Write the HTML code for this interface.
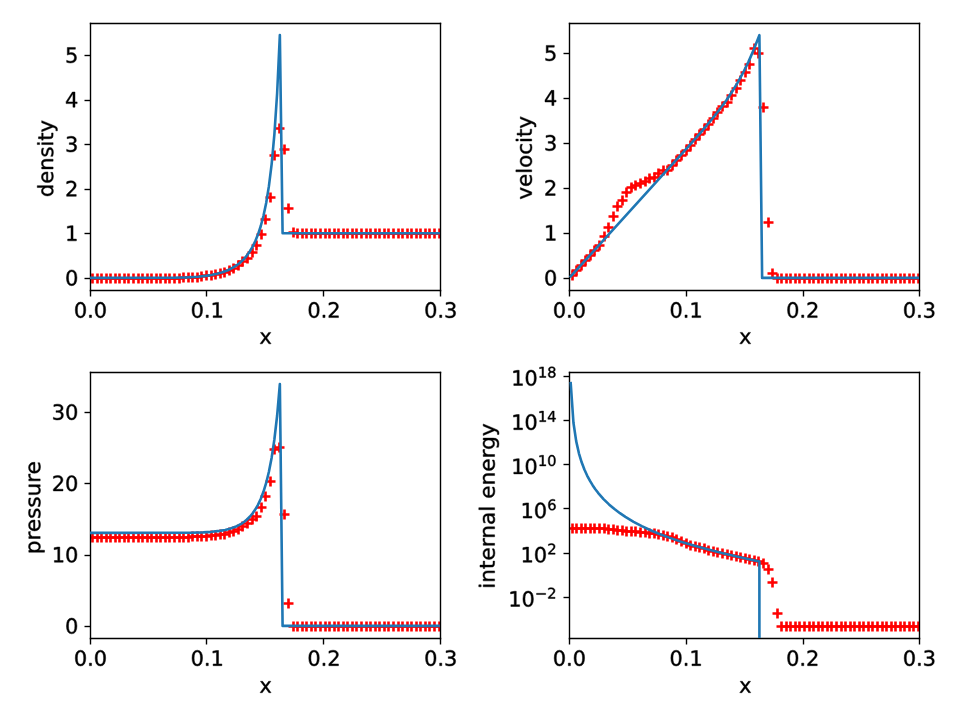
<!DOCTYPE html>
<html><head><meta charset="utf-8"><title>plot</title>
<style>html,body{margin:0;padding:0;background:#fff;width:960px;height:720px;overflow:hidden}svg{display:block}</style>
</head><body>
<svg width="960" height="720" viewBox="0 0 552.96 414.72" version="1.1">
<defs>
<style type="text/css">*{stroke-linejoin: round; stroke-linecap: butt}.t path,.t use{stroke:#000;stroke-width:0.450px;vector-effect:non-scaling-stroke;stroke-linejoin:round}</style>
</defs>
<g id="figure_1">
<g id="patch_1">
<path d="M 0 414.72
L 552.96 414.72
L 552.96 0
L 0 0
z
" style="fill: #ffffff"/>
</g>
<g id="axes_1">
<g id="patch_2">
<path d="M 51.65568 167.04
L 253.39968 167.04
L 253.39968 13.248
L 51.65568 13.248
z
" style="fill: #ffffff"/>
</g>
<g id="matplotlib.axis_1">
<g id="xtick_1">
<g id="line2d_1">
<defs>
<path id="m15b3f0bd22" d="M 0 0 L 0 3.4560" style="stroke: #000000; stroke-width: 0.8"/>
</defs>
<g>
<use href="#m15b3f0bd22" x="52.1280" y="167.3280" style="stroke: #000000; stroke-width: 0.8"/>
</g>
</g>
<g id="text_1" class="t" transform="translate(0.4608 -0.2304)">
<!-- 0.0 -->
<g transform="translate(42.113805 183.158125) scale(0.12 -0.12)">
<defs>
<path id="DejaVuSans-30" d="M 2034 4250
Q 1547 4250 1301 3770
Q 1056 3291 1056 2328
Q 1056 1369 1301 889
Q 1547 409 2034 409
Q 2525 409 2770 889
Q 3016 1369 3016 2328
Q 3016 3291 2770 3770
Q 2525 4250 2034 4250
z
M 2034 4750
Q 2819 4750 3233 4129
Q 3647 3509 3647 2328
Q 3647 1150 3233 529
Q 2819 -91 2034 -91
Q 1250 -91 836 529
Q 422 1150 422 2328
Q 422 3509 836 4129
Q 1250 4750 2034 4750
z
" transform="scale(0.015625)"/>
<path id="DejaVuSans-2e" d="M 684 794
L 1344 794
L 1344 0
L 684 0
L 684 794
z
" transform="scale(0.015625)"/>
</defs>
<use href="#DejaVuSans-30"/>
<use href="#DejaVuSans-2e" transform="translate(63.623047 0)"/>
<use href="#DejaVuSans-30" transform="translate(95.410156 0)"/>
</g>
</g>
</g>
<g id="xtick_2">
<g id="line2d_2">
<g>
<use href="#m15b3f0bd22" x="118.9440" y="167.3280" style="stroke: #000000; stroke-width: 0.8"/>
</g>
</g>
<g id="text_2" class="t" transform="translate(0.4608 -0.2304)">
<!-- 0.1 -->
<g transform="translate(109.361805 183.158125) scale(0.12 -0.12)">
<defs>
<path id="DejaVuSans-31" d="M 794 531
L 1825 531
L 1825 4091
L 703 3866
L 703 4441
L 1819 4666
L 2450 4666
L 2450 531
L 3481 531
L 3481 0
L 794 0
L 794 531
z
" transform="scale(0.015625)"/>
</defs>
<use href="#DejaVuSans-30"/>
<use href="#DejaVuSans-2e" transform="translate(63.623047 0)"/>
<use href="#DejaVuSans-31" transform="translate(95.410156 0)"/>
</g>
</g>
</g>
<g id="xtick_3">
<g id="line2d_3">
<g>
<use href="#m15b3f0bd22" x="186.3360" y="167.3280" style="stroke: #000000; stroke-width: 0.8"/>
</g>
</g>
<g id="text_3" class="t" transform="translate(0.4608 -0.2304)">
<!-- 0.2 -->
<g transform="translate(176.609805 183.158125) scale(0.12 -0.12)">
<defs>
<path id="DejaVuSans-32" d="M 1228 531
L 3431 531
L 3431 0
L 469 0
L 469 531
Q 828 903 1448 1529
Q 2069 2156 2228 2338
Q 2531 2678 2651 2914
Q 2772 3150 2772 3378
Q 2772 3750 2511 3984
Q 2250 4219 1831 4219
Q 1534 4219 1204 4116
Q 875 4013 500 3803
L 500 4441
Q 881 4594 1212 4672
Q 1544 4750 1819 4750
Q 2544 4750 2975 4387
Q 3406 4025 3406 3419
Q 3406 3131 3298 2873
Q 3191 2616 2906 2266
Q 2828 2175 2409 1742
Q 1991 1309 1228 531
z
" transform="scale(0.015625)"/>
</defs>
<use href="#DejaVuSans-30"/>
<use href="#DejaVuSans-2e" transform="translate(63.623047 0)"/>
<use href="#DejaVuSans-32" transform="translate(95.410156 0)"/>
</g>
</g>
</g>
<g id="xtick_4">
<g id="line2d_4">
<g>
<use href="#m15b3f0bd22" x="253.7280" y="167.3280" style="stroke: #000000; stroke-width: 0.8"/>
</g>
</g>
<g id="text_4" class="t" transform="translate(0.4608 -0.2304)">
<!-- 0.3 -->
<g transform="translate(243.857805 183.158125) scale(0.12 -0.12)">
<defs>
<path id="DejaVuSans-33" d="M 2597 2516
Q 3050 2419 3304 2112
Q 3559 1806 3559 1356
Q 3559 666 3084 287
Q 2609 -91 1734 -91
Q 1441 -91 1130 -33
Q 819 25 488 141
L 488 750
Q 750 597 1062 519
Q 1375 441 1716 441
Q 2309 441 2620 675
Q 2931 909 2931 1356
Q 2931 1769 2642 2001
Q 2353 2234 1838 2234
L 1294 2234
L 1294 2753
L 1863 2753
Q 2328 2753 2575 2939
Q 2822 3125 2822 3475
Q 2822 3834 2567 4026
Q 2313 4219 1838 4219
Q 1578 4219 1281 4162
Q 984 4106 628 3988
L 628 4550
Q 988 4650 1302 4700
Q 1616 4750 1894 4750
Q 2613 4750 3031 4423
Q 3450 4097 3450 3541
Q 3450 3153 3228 2886
Q 3006 2619 2597 2516
z
" transform="scale(0.015625)"/>
</defs>
<use href="#DejaVuSans-30"/>
<use href="#DejaVuSans-2e" transform="translate(63.623047 0)"/>
<use href="#DejaVuSans-33" transform="translate(95.410156 0)"/>
</g>
</g>
</g>
<g id="text_5" class="t" transform="translate(0.4608 -0.7488) translate(152.5033 195.4906) scale(1.0000 1.0000) translate(-152.5033 -195.4906)">
<!-- x -->
<g transform="translate(148.97643 198.771875) scale(0.12 -0.12)">
<defs>
<path id="DejaVuSans-78" d="M 3513 3500
L 2247 1797
L 3578 0
L 2900 0
L 1881 1375
L 863 0
L 184 0
L 1544 1831
L 300 3500
L 978 3500
L 1906 2253
L 2834 3500
L 3513 3500
z
" transform="scale(0.015625)"/>
</defs>
<use href="#DejaVuSans-78"/>
</g>
</g>
</g>
<g id="matplotlib.axis_2">
<g id="ytick_1">
<g id="line2d_5">
<defs>
<path id="me904bfcc6c" d="M 0 0 L -3.4560 0" style="stroke: #000000; stroke-width: 0.8"/>
</defs>
<g>
<use href="#me904bfcc6c" x="52.1280" y="160.4160" style="stroke: #000000; stroke-width: 0.8"/>
</g>
</g>
<g id="text_6" class="t" transform="translate(0.4608 -0.2304)">
<!-- 0 -->
<g transform="translate(37.02068 164.608517) scale(0.12 -0.12)">
<use href="#DejaVuSans-30"/>
</g>
</g>
</g>
<g id="ytick_2">
<g id="line2d_6">
<g>
<use href="#me904bfcc6c" x="52.1280" y="134.4960" style="stroke: #000000; stroke-width: 0.8"/>
</g>
</g>
<g id="text_7" class="t" transform="translate(0.4608 -0.2304)">
<!-- 1 -->
<g transform="translate(37.02068 138.951032) scale(0.12 -0.12)">
<use href="#DejaVuSans-31"/>
</g>
</g>
</g>
<g id="ytick_3">
<g id="line2d_7">
<g>
<use href="#me904bfcc6c" x="52.1280" y="109.1520" style="stroke: #000000; stroke-width: 0.8"/>
</g>
</g>
<g id="text_8" class="t" transform="translate(0.4608 -0.2304)">
<!-- 2 -->
<g transform="translate(37.02068 113.293546) scale(0.12 -0.12)">
<use href="#DejaVuSans-32"/>
</g>
</g>
</g>
<g id="ytick_4">
<g id="line2d_8">
<g>
<use href="#me904bfcc6c" x="52.1280" y="83.2320" style="stroke: #000000; stroke-width: 0.8"/>
</g>
</g>
<g id="text_9" class="t" transform="translate(0.4608 -0.2304)">
<!-- 3 -->
<g transform="translate(37.02068 87.636061) scale(0.12 -0.12)">
<use href="#DejaVuSans-33"/>
</g>
</g>
</g>
<g id="ytick_5">
<g id="line2d_9">
<g>
<use href="#me904bfcc6c" x="52.1280" y="57.8880" style="stroke: #000000; stroke-width: 0.8"/>
</g>
</g>
<g id="text_10" class="t" transform="translate(0.4608 -0.2304)">
<!-- 4 -->
<g transform="translate(37.02068 61.978576) scale(0.12 -0.12)">
<defs>
<path id="DejaVuSans-34" d="M 2419 4116
L 825 1625
L 2419 1625
L 2419 4116
z
M 2253 4666
L 3047 4666
L 3047 1625
L 3713 1625
L 3713 1100
L 3047 1100
L 3047 0
L 2419 0
L 2419 1100
L 313 1100
L 313 1709
L 2253 4666
z
" transform="scale(0.015625)"/>
</defs>
<use href="#DejaVuSans-34"/>
</g>
</g>
</g>
<g id="ytick_6">
<g id="line2d_10">
<g>
<use href="#me904bfcc6c" x="52.1280" y="31.9680" style="stroke: #000000; stroke-width: 0.8"/>
</g>
</g>
<g id="text_11" class="t" transform="translate(0.4608 -0.2304)">
<!-- 5 -->
<g transform="translate(37.02068 36.32109) scale(0.12 -0.12)">
<defs>
<path id="DejaVuSans-35" d="M 691 4666
L 3169 4666
L 3169 4134
L 1269 4134
L 1269 2991
Q 1406 3038 1543 3061
Q 1681 3084 1819 3084
Q 2600 3084 3056 2656
Q 3513 2228 3513 1497
Q 3513 744 3044 326
Q 2575 -91 1722 -91
Q 1428 -91 1123 -41
Q 819 9 494 109
L 494 744
Q 775 591 1075 516
Q 1375 441 1709 441
Q 2250 441 2565 725
Q 2881 1009 2881 1497
Q 2881 1984 2565 2268
Q 2250 2553 1709 2553
Q 1456 2553 1204 2497
Q 953 2441 691 2322
L 691 4666
z
" transform="scale(0.015625)"/>
</defs>
<use href="#DejaVuSans-35"/>
</g>
</g>
</g>
<g id="text_12" class="t" transform="translate(0.0576 1.1808) translate(27.2138 89.9920) scale(1.0000 1.0090) translate(-27.2138 -89.9920)">
<!-- density -->
<g transform="translate(30.525055 112.143375) rotate(-90) scale(0.12 -0.12)">
<defs>
<path id="DejaVuSans-64" d="M 2906 2969
L 2906 4863
L 3481 4863
L 3481 0
L 2906 0
L 2906 525
Q 2725 213 2448 61
Q 2172 -91 1784 -91
Q 1150 -91 751 415
Q 353 922 353 1747
Q 353 2572 751 3078
Q 1150 3584 1784 3584
Q 2172 3584 2448 3432
Q 2725 3281 2906 2969
z
M 947 1747
Q 947 1113 1208 752
Q 1469 391 1925 391
Q 2381 391 2643 752
Q 2906 1113 2906 1747
Q 2906 2381 2643 2742
Q 2381 3103 1925 3103
Q 1469 3103 1208 2742
Q 947 2381 947 1747
z
" transform="scale(0.015625)"/>
<path id="DejaVuSans-65" d="M 3597 1894
L 3597 1613
L 953 1613
Q 991 1019 1311 708
Q 1631 397 2203 397
Q 2534 397 2845 478
Q 3156 559 3463 722
L 3463 178
Q 3153 47 2828 -22
Q 2503 -91 2169 -91
Q 1331 -91 842 396
Q 353 884 353 1716
Q 353 2575 817 3079
Q 1281 3584 2069 3584
Q 2775 3584 3186 3129
Q 3597 2675 3597 1894
z
M 3022 2063
Q 3016 2534 2758 2815
Q 2500 3097 2075 3097
Q 1594 3097 1305 2825
Q 1016 2553 972 2059
L 3022 2063
z
" transform="scale(0.015625)"/>
<path id="DejaVuSans-6e" d="M 3513 2113
L 3513 0
L 2938 0
L 2938 2094
Q 2938 2591 2744 2837
Q 2550 3084 2163 3084
Q 1697 3084 1428 2787
Q 1159 2491 1159 1978
L 1159 0
L 581 0
L 581 3500
L 1159 3500
L 1159 2956
Q 1366 3272 1645 3428
Q 1925 3584 2291 3584
Q 2894 3584 3203 3211
Q 3513 2838 3513 2113
z
" transform="scale(0.015625)"/>
<path id="DejaVuSans-73" d="M 2834 3397
L 2834 2853
Q 2591 2978 2328 3040
Q 2066 3103 1784 3103
Q 1356 3103 1142 2972
Q 928 2841 928 2578
Q 928 2378 1081 2264
Q 1234 2150 1697 2047
L 1894 2003
Q 2506 1872 2764 1633
Q 3022 1394 3022 966
Q 3022 478 2636 193
Q 2250 -91 1575 -91
Q 1294 -91 989 -36
Q 684 19 347 128
L 347 722
Q 666 556 975 473
Q 1284 391 1588 391
Q 1994 391 2212 530
Q 2431 669 2431 922
Q 2431 1156 2273 1281
Q 2116 1406 1581 1522
L 1381 1569
Q 847 1681 609 1914
Q 372 2147 372 2553
Q 372 3047 722 3315
Q 1072 3584 1716 3584
Q 2034 3584 2315 3537
Q 2597 3491 2834 3397
z
" transform="scale(0.015625)"/>
<path id="DejaVuSans-69" d="M 603 3500
L 1178 3500
L 1178 0
L 603 0
L 603 3500
z
M 603 4863
L 1178 4863
L 1178 4134
L 603 4134
L 603 4863
z
" transform="scale(0.015625)"/>
<path id="DejaVuSans-74" d="M 1172 4494
L 1172 3500
L 2356 3500
L 2356 3053
L 1172 3053
L 1172 1153
Q 1172 725 1289 603
Q 1406 481 1766 481
L 2356 481
L 2356 0
L 1766 0
Q 1100 0 847 248
Q 594 497 594 1153
L 594 3053
L 172 3053
L 172 3500
L 594 3500
L 594 4494
L 1172 4494
z
" transform="scale(0.015625)"/>
<path id="DejaVuSans-79" d="M 2059 -325
Q 1816 -950 1584 -1140
Q 1353 -1331 966 -1331
L 506 -1331
L 506 -850
L 844 -850
Q 1081 -850 1212 -737
Q 1344 -625 1503 -206
L 1606 56
L 191 3500
L 800 3500
L 1894 763
L 2988 3500
L 3597 3500
L 2059 -325
z
" transform="scale(0.015625)"/>
</defs>
<use href="#DejaVuSans-64"/>
<use href="#DejaVuSans-65" transform="translate(63.476562 0)"/>
<use href="#DejaVuSans-6e" transform="translate(125 0)"/>
<use href="#DejaVuSans-73" transform="translate(188.378906 0)"/>
<use href="#DejaVuSans-69" transform="translate(240.478516 0)"/>
<use href="#DejaVuSans-74" transform="translate(268.261719 0)"/>
<use href="#DejaVuSans-79" transform="translate(307.470703 0)"/>
</g>
</g>
</g>
<g id="line2d_11">
<defs>
<path id="m07281500a2" d="M -2.8800 0 L 2.8800 0 M 0 2.8800 L 0 -2.8800" style="stroke: #ff0000; stroke-width: 1.5"/>
</defs>
<g clip-path="url(#pbebabd6187)">
<use href="#m07281500a2" x="53.2800" y="160.4160" style="fill: #ff0000; stroke: #ff0000; stroke-width: 1.5"/>
<use href="#m07281500a2" x="56.1600" y="160.4160" style="fill: #ff0000; stroke: #ff0000; stroke-width: 1.5"/>
<use href="#m07281500a2" x="58.4640" y="160.4160" style="fill: #ff0000; stroke: #ff0000; stroke-width: 1.5"/>
<use href="#m07281500a2" x="61.3440" y="160.4160" style="fill: #ff0000; stroke: #ff0000; stroke-width: 1.5"/>
<use href="#m07281500a2" x="63.6480" y="160.4160" style="fill: #ff0000; stroke: #ff0000; stroke-width: 1.5"/>
<use href="#m07281500a2" x="66.5280" y="160.4160" style="fill: #ff0000; stroke: #ff0000; stroke-width: 1.5"/>
<use href="#m07281500a2" x="68.8320" y="160.4160" style="fill: #ff0000; stroke: #ff0000; stroke-width: 1.5"/>
<use href="#m07281500a2" x="71.7120" y="160.4160" style="fill: #ff0000; stroke: #ff0000; stroke-width: 1.5"/>
<use href="#m07281500a2" x="74.0160" y="160.4160" style="fill: #ff0000; stroke: #ff0000; stroke-width: 1.5"/>
<use href="#m07281500a2" x="76.8960" y="160.4160" style="fill: #ff0000; stroke: #ff0000; stroke-width: 1.5"/>
<use href="#m07281500a2" x="79.7760" y="160.4160" style="fill: #ff0000; stroke: #ff0000; stroke-width: 1.5"/>
<use href="#m07281500a2" x="82.0800" y="160.4160" style="fill: #ff0000; stroke: #ff0000; stroke-width: 1.5"/>
<use href="#m07281500a2" x="84.9600" y="160.4160" style="fill: #ff0000; stroke: #ff0000; stroke-width: 1.5"/>
<use href="#m07281500a2" x="87.2640" y="160.4160" style="fill: #ff0000; stroke: #ff0000; stroke-width: 1.5"/>
<use href="#m07281500a2" x="90.1440" y="160.4160" style="fill: #ff0000; stroke: #ff0000; stroke-width: 1.5"/>
<use href="#m07281500a2" x="92.4480" y="160.4160" style="fill: #ff0000; stroke: #ff0000; stroke-width: 1.5"/>
<use href="#m07281500a2" x="95.3280" y="160.4160" style="fill: #ff0000; stroke: #ff0000; stroke-width: 1.5"/>
<use href="#m07281500a2" x="97.6320" y="160.4160" style="fill: #ff0000; stroke: #ff0000; stroke-width: 1.5"/>
<use href="#m07281500a2" x="100.5120" y="160.4160" style="fill: #ff0000; stroke: #ff0000; stroke-width: 1.5"/>
<use href="#m07281500a2" x="103.3920" y="160.4160" style="fill: #ff0000; stroke: #ff0000; stroke-width: 1.5"/>
<use href="#m07281500a2" x="105.6960" y="159.8400" style="fill: #ff0000; stroke: #ff0000; stroke-width: 1.5"/>
<use href="#m07281500a2" x="108.5760" y="159.8400" style="fill: #ff0000; stroke: #ff0000; stroke-width: 1.5"/>
<use href="#m07281500a2" x="110.8800" y="159.8400" style="fill: #ff0000; stroke: #ff0000; stroke-width: 1.5"/>
<use href="#m07281500a2" x="113.7600" y="159.8400" style="fill: #ff0000; stroke: #ff0000; stroke-width: 1.5"/>
<use href="#m07281500a2" x="116.0640" y="159.2640" style="fill: #ff0000; stroke: #ff0000; stroke-width: 1.5"/>
<use href="#m07281500a2" x="118.9440" y="158.6880" style="fill: #ff0000; stroke: #ff0000; stroke-width: 1.5"/>
<use href="#m07281500a2" x="121.8240" y="158.6880" style="fill: #ff0000; stroke: #ff0000; stroke-width: 1.5"/>
<use href="#m07281500a2" x="124.1280" y="158.1120" style="fill: #ff0000; stroke: #ff0000; stroke-width: 1.5"/>
<use href="#m07281500a2" x="127.0080" y="157.5360" style="fill: #ff0000; stroke: #ff0000; stroke-width: 1.5"/>
<use href="#m07281500a2" x="129.3120" y="156.9600" style="fill: #ff0000; stroke: #ff0000; stroke-width: 1.5"/>
<use href="#m07281500a2" x="132.1920" y="155.8080" style="fill: #ff0000; stroke: #ff0000; stroke-width: 1.5"/>
<use href="#m07281500a2" x="134.4960" y="154.6560" style="fill: #ff0000; stroke: #ff0000; stroke-width: 1.5"/>
<use href="#m07281500a2" x="137.3760" y="152.9280" style="fill: #ff0000; stroke: #ff0000; stroke-width: 1.5"/>
<use href="#m07281500a2" x="139.6800" y="150.6240" style="fill: #ff0000; stroke: #ff0000; stroke-width: 1.5"/>
<use href="#m07281500a2" x="142.5600" y="148.8960" style="fill: #ff0000; stroke: #ff0000; stroke-width: 1.5"/>
<use href="#m07281500a2" x="145.4400" y="145.4400" style="fill: #ff0000; stroke: #ff0000; stroke-width: 1.5"/>
<use href="#m07281500a2" x="147.7440" y="141.4080" style="fill: #ff0000; stroke: #ff0000; stroke-width: 1.5"/>
<use href="#m07281500a2" x="150.6240" y="135.0720" style="fill: #ff0000; stroke: #ff0000; stroke-width: 1.5"/>
<use href="#m07281500a2" x="152.9280" y="126.4320" style="fill: #ff0000; stroke: #ff0000; stroke-width: 1.5"/>
<use href="#m07281500a2" x="155.8080" y="113.7600" style="fill: #ff0000; stroke: #ff0000; stroke-width: 1.5"/>
<use href="#m07281500a2" x="158.1120" y="89.5680" style="fill: #ff0000; stroke: #ff0000; stroke-width: 1.5"/>
<use href="#m07281500a2" x="160.9920" y="74.0160" style="fill: #ff0000; stroke: #ff0000; stroke-width: 1.5"/>
<use href="#m07281500a2" x="163.8720" y="86.1120" style="fill: #ff0000; stroke: #ff0000; stroke-width: 1.5"/>
<use href="#m07281500a2" x="166.1760" y="120.0960" style="fill: #ff0000; stroke: #ff0000; stroke-width: 1.5"/>
<use href="#m07281500a2" x="169.0560" y="133.9200" style="fill: #ff0000; stroke: #ff0000; stroke-width: 1.5"/>
<use href="#m07281500a2" x="171.3600" y="134.4960" style="fill: #ff0000; stroke: #ff0000; stroke-width: 1.5"/>
<use href="#m07281500a2" x="174.2400" y="134.4960" style="fill: #ff0000; stroke: #ff0000; stroke-width: 1.5"/>
<use href="#m07281500a2" x="176.5440" y="134.4960" style="fill: #ff0000; stroke: #ff0000; stroke-width: 1.5"/>
<use href="#m07281500a2" x="179.4240" y="134.4960" style="fill: #ff0000; stroke: #ff0000; stroke-width: 1.5"/>
<use href="#m07281500a2" x="181.7280" y="134.4960" style="fill: #ff0000; stroke: #ff0000; stroke-width: 1.5"/>
<use href="#m07281500a2" x="184.6080" y="134.4960" style="fill: #ff0000; stroke: #ff0000; stroke-width: 1.5"/>
<use href="#m07281500a2" x="187.4880" y="134.4960" style="fill: #ff0000; stroke: #ff0000; stroke-width: 1.5"/>
<use href="#m07281500a2" x="189.7920" y="134.4960" style="fill: #ff0000; stroke: #ff0000; stroke-width: 1.5"/>
<use href="#m07281500a2" x="192.6720" y="134.4960" style="fill: #ff0000; stroke: #ff0000; stroke-width: 1.5"/>
<use href="#m07281500a2" x="194.9760" y="134.4960" style="fill: #ff0000; stroke: #ff0000; stroke-width: 1.5"/>
<use href="#m07281500a2" x="197.8560" y="134.4960" style="fill: #ff0000; stroke: #ff0000; stroke-width: 1.5"/>
<use href="#m07281500a2" x="200.1600" y="134.4960" style="fill: #ff0000; stroke: #ff0000; stroke-width: 1.5"/>
<use href="#m07281500a2" x="203.0400" y="134.4960" style="fill: #ff0000; stroke: #ff0000; stroke-width: 1.5"/>
<use href="#m07281500a2" x="205.3440" y="134.4960" style="fill: #ff0000; stroke: #ff0000; stroke-width: 1.5"/>
<use href="#m07281500a2" x="208.2240" y="134.4960" style="fill: #ff0000; stroke: #ff0000; stroke-width: 1.5"/>
<use href="#m07281500a2" x="211.1040" y="134.4960" style="fill: #ff0000; stroke: #ff0000; stroke-width: 1.5"/>
<use href="#m07281500a2" x="213.4080" y="134.4960" style="fill: #ff0000; stroke: #ff0000; stroke-width: 1.5"/>
<use href="#m07281500a2" x="216.2880" y="134.4960" style="fill: #ff0000; stroke: #ff0000; stroke-width: 1.5"/>
<use href="#m07281500a2" x="218.5920" y="134.4960" style="fill: #ff0000; stroke: #ff0000; stroke-width: 1.5"/>
<use href="#m07281500a2" x="221.4720" y="134.4960" style="fill: #ff0000; stroke: #ff0000; stroke-width: 1.5"/>
<use href="#m07281500a2" x="223.7760" y="134.4960" style="fill: #ff0000; stroke: #ff0000; stroke-width: 1.5"/>
<use href="#m07281500a2" x="226.6560" y="134.4960" style="fill: #ff0000; stroke: #ff0000; stroke-width: 1.5"/>
<use href="#m07281500a2" x="229.5360" y="134.4960" style="fill: #ff0000; stroke: #ff0000; stroke-width: 1.5"/>
<use href="#m07281500a2" x="231.8400" y="134.4960" style="fill: #ff0000; stroke: #ff0000; stroke-width: 1.5"/>
<use href="#m07281500a2" x="234.7200" y="134.4960" style="fill: #ff0000; stroke: #ff0000; stroke-width: 1.5"/>
<use href="#m07281500a2" x="237.0240" y="134.4960" style="fill: #ff0000; stroke: #ff0000; stroke-width: 1.5"/>
<use href="#m07281500a2" x="239.9040" y="134.4960" style="fill: #ff0000; stroke: #ff0000; stroke-width: 1.5"/>
<use href="#m07281500a2" x="242.2080" y="134.4960" style="fill: #ff0000; stroke: #ff0000; stroke-width: 1.5"/>
<use href="#m07281500a2" x="245.0880" y="134.4960" style="fill: #ff0000; stroke: #ff0000; stroke-width: 1.5"/>
<use href="#m07281500a2" x="247.3920" y="134.4960" style="fill: #ff0000; stroke: #ff0000; stroke-width: 1.5"/>
<use href="#m07281500a2" x="250.2720" y="134.4960" style="fill: #ff0000; stroke: #ff0000; stroke-width: 1.5"/>
<use href="#m07281500a2" x="253.1520" y="134.4960" style="fill: #ff0000; stroke: #ff0000; stroke-width: 1.5"/>
<use href="#m07281500a2" x="255.4560" y="134.4960" style="fill: #ff0000; stroke: #ff0000; stroke-width: 1.5"/>
</g>
</g>
<g id="patch_3">
<path d="M 52.1280 167.3280 L 52.1280 13.5360" style="fill: none; stroke: #000000; stroke-width: 0.8; stroke-linejoin: miter; stroke-linecap: square"/>
</g>
<g id="patch_4">
<path d="M 253.7280 167.3280 L 253.7280 13.5360" style="fill: none; stroke: #000000; stroke-width: 0.8; stroke-linejoin: miter; stroke-linecap: square"/>
</g>
<g id="patch_5">
<path d="M 52.1280 167.3280 L 253.7280 167.3280" style="fill: none; stroke: #000000; stroke-width: 0.8; stroke-linejoin: miter; stroke-linecap: square"/>
</g>
<g id="patch_6">
<path d="M 52.1280 13.5360 L 253.7280 13.5360" style="fill: none; stroke: #000000; stroke-width: 0.8; stroke-linejoin: miter; stroke-linecap: square"/>
</g>
<g id="line2d_12">
<path d="M 52.443743 160.049455
L 99.727493 159.953547
L 107.608118 159.749662
L 113.912618 159.37996
L 118.640993 158.885276
L 121.793243 158.398208
L 124.945493 157.737602
L 128.097743 156.84764
L 131.249993 155.652864
L 134.402243 154.048324
L 135.978368 153.047617
L 137.554493 151.882754
L 139.130618 150.52274
L 140.706743 148.928745
L 142.282868 147.051491
L 143.858993 144.827586
L 145.435118 142.174317
L 147.011243 138.982092
L 148.587368 135.103352
L 150.163493 130.335941
L 151.739618 124.397692
L 153.315743 116.886649
L 154.891868 107.217227
L 156.467993 94.514824
L 158.044118 77.435744
L 159.620243 53.847946
L 161.196368 20.238545
L 162.772493 134.391969
L 252.611618 134.391969
L 252.611618 134.391969
" clip-path="url(#pbebabd6187)" style="fill: none; stroke: #1f77b4; stroke-width: 1.5; stroke-linecap: square"/>
</g>
</g>
<g id="axes_2">
<g id="patch_7">
<path d="M 327.9456 167.04
L 529.5456 167.04
L 529.5456 13.248
L 327.9456 13.248
z
" style="fill: #ffffff"/>
</g>
<g id="matplotlib.axis_3">
<g id="xtick_5">
<g id="line2d_13">
<g>
<use href="#m15b3f0bd22" x="328.0320" y="167.3280" style="stroke: #000000; stroke-width: 0.8"/>
</g>
</g>
<g id="text_13" class="t" transform="translate(0.0288 -0.2304)">
<!-- 0.0 -->
<g transform="translate(318.403725 183.158125) scale(0.12 -0.12)">
<use href="#DejaVuSans-30"/>
<use href="#DejaVuSans-2e" transform="translate(63.623047 0)"/>
<use href="#DejaVuSans-30" transform="translate(95.410156 0)"/>
</g>
</g>
</g>
<g id="xtick_6">
<g id="line2d_14">
<g>
<use href="#m15b3f0bd22" x="395.4240" y="167.3280" style="stroke: #000000; stroke-width: 0.8"/>
</g>
</g>
<g id="text_14" class="t" transform="translate(0.0288 -0.2304)">
<!-- 0.1 -->
<g transform="translate(385.603725 183.158125) scale(0.12 -0.12)">
<use href="#DejaVuSans-30"/>
<use href="#DejaVuSans-2e" transform="translate(63.623047 0)"/>
<use href="#DejaVuSans-31" transform="translate(95.410156 0)"/>
</g>
</g>
</g>
<g id="xtick_7">
<g id="line2d_15">
<g>
<use href="#m15b3f0bd22" x="462.8160" y="167.3280" style="stroke: #000000; stroke-width: 0.8"/>
</g>
</g>
<g id="text_15" class="t" transform="translate(0.0288 -0.2304)">
<!-- 0.2 -->
<g transform="translate(452.803725 183.158125) scale(0.12 -0.12)">
<use href="#DejaVuSans-30"/>
<use href="#DejaVuSans-2e" transform="translate(63.623047 0)"/>
<use href="#DejaVuSans-32" transform="translate(95.410156 0)"/>
</g>
</g>
</g>
<g id="xtick_8">
<g id="line2d_16">
<g>
<use href="#m15b3f0bd22" x="529.6320" y="167.3280" style="stroke: #000000; stroke-width: 0.8"/>
</g>
</g>
<g id="text_16" class="t" transform="translate(0.0288 -0.2304)">
<!-- 0.3 -->
<g transform="translate(520.003725 183.158125) scale(0.12 -0.12)">
<use href="#DejaVuSans-30"/>
<use href="#DejaVuSans-2e" transform="translate(63.623047 0)"/>
<use href="#DejaVuSans-33" transform="translate(95.410156 0)"/>
</g>
</g>
</g>
<g id="text_17" class="t" transform="translate(0.5472 -0.7488) translate(428.7212 195.4906) scale(1.0000 1.0000) translate(-428.7212 -195.4906)">
<!-- x -->
<g transform="translate(425.19435 198.771875) scale(0.12 -0.12)">
<use href="#DejaVuSans-78"/>
</g>
</g>
</g>
<g id="matplotlib.axis_4">
<g id="ytick_7">
<g id="line2d_17">
<g>
<use href="#me904bfcc6c" x="328.0320" y="160.4160" style="stroke: #000000; stroke-width: 0.8"/>
</g>
</g>
<g id="text_18" class="t" transform="translate(0.0288 -0.2304)">
<!-- 0 -->
<g transform="translate(313.3106 164.608517) scale(0.12 -0.12)">
<use href="#DejaVuSans-30"/>
</g>
</g>
</g>
<g id="ytick_8">
<g id="line2d_18">
<g>
<use href="#me904bfcc6c" x="328.0320" y="134.4960" style="stroke: #000000; stroke-width: 0.8"/>
</g>
</g>
<g id="text_19" class="t" transform="translate(0.0288 -0.2304)">
<!-- 1 -->
<g transform="translate(313.3106 138.713213) scale(0.12 -0.12)">
<use href="#DejaVuSans-31"/>
</g>
</g>
</g>
<g id="ytick_9">
<g id="line2d_19">
<g>
<use href="#me904bfcc6c" x="328.0320" y="108.5760" style="stroke: #000000; stroke-width: 0.8"/>
</g>
</g>
<g id="text_20" class="t" transform="translate(0.0288 -0.2304)">
<!-- 2 -->
<g transform="translate(313.3106 112.81791) scale(0.12 -0.12)">
<use href="#DejaVuSans-32"/>
</g>
</g>
</g>
<g id="ytick_10">
<g id="line2d_20">
<g>
<use href="#me904bfcc6c" x="328.0320" y="82.6560" style="stroke: #000000; stroke-width: 0.8"/>
</g>
</g>
<g id="text_21" class="t" transform="translate(0.0288 -0.2304)">
<!-- 3 -->
<g transform="translate(313.3106 86.922606) scale(0.12 -0.12)">
<use href="#DejaVuSans-33"/>
</g>
</g>
</g>
<g id="ytick_11">
<g id="line2d_21">
<g>
<use href="#me904bfcc6c" x="328.0320" y="56.7360" style="stroke: #000000; stroke-width: 0.8"/>
</g>
</g>
<g id="text_22" class="t" transform="translate(0.0288 -0.2304)">
<!-- 4 -->
<g transform="translate(313.3106 61.027302) scale(0.12 -0.12)">
<use href="#DejaVuSans-34"/>
</g>
</g>
</g>
<g id="ytick_12">
<g id="line2d_22">
<g>
<use href="#me904bfcc6c" x="328.0320" y="30.8160" style="stroke: #000000; stroke-width: 0.8"/>
</g>
</g>
<g id="text_23" class="t" transform="translate(0.0288 -0.2304)">
<!-- 5 -->
<g transform="translate(313.3106 35.131999) scale(0.12 -0.12)">
<use href="#DejaVuSans-35"/>
</g>
</g>
</g>
<g id="text_24" class="t" transform="translate(-0.5472 0.7488) translate(303.5037 90.1449) scale(1.0000 1.0270) translate(-303.5037 -90.1449)">
<!-- velocity -->
<g transform="translate(306.814975 113.594625) rotate(-90) scale(0.12 -0.12)">
<defs>
<path id="DejaVuSans-76" d="M 191 3500
L 800 3500
L 1894 563
L 2988 3500
L 3597 3500
L 2284 0
L 1503 0
L 191 3500
z
" transform="scale(0.015625)"/>
<path id="DejaVuSans-6c" d="M 603 4863
L 1178 4863
L 1178 0
L 603 0
L 603 4863
z
" transform="scale(0.015625)"/>
<path id="DejaVuSans-6f" d="M 1959 3097
Q 1497 3097 1228 2736
Q 959 2375 959 1747
Q 959 1119 1226 758
Q 1494 397 1959 397
Q 2419 397 2687 759
Q 2956 1122 2956 1747
Q 2956 2369 2687 2733
Q 2419 3097 1959 3097
z
M 1959 3584
Q 2709 3584 3137 3096
Q 3566 2609 3566 1747
Q 3566 888 3137 398
Q 2709 -91 1959 -91
Q 1206 -91 779 398
Q 353 888 353 1747
Q 353 2609 779 3096
Q 1206 3584 1959 3584
z
" transform="scale(0.015625)"/>
<path id="DejaVuSans-63" d="M 3122 3366
L 3122 2828
Q 2878 2963 2633 3030
Q 2388 3097 2138 3097
Q 1578 3097 1268 2742
Q 959 2388 959 1747
Q 959 1106 1268 751
Q 1578 397 2138 397
Q 2388 397 2633 464
Q 2878 531 3122 666
L 3122 134
Q 2881 22 2623 -34
Q 2366 -91 2075 -91
Q 1284 -91 818 406
Q 353 903 353 1747
Q 353 2603 823 3093
Q 1294 3584 2113 3584
Q 2378 3584 2631 3529
Q 2884 3475 3122 3366
z
" transform="scale(0.015625)"/>
</defs>
<use href="#DejaVuSans-76"/>
<use href="#DejaVuSans-65" transform="translate(59.179688 0)"/>
<use href="#DejaVuSans-6c" transform="translate(120.703125 0)"/>
<use href="#DejaVuSans-6f" transform="translate(148.486328 0)"/>
<use href="#DejaVuSans-63" transform="translate(209.667969 0)"/>
<use href="#DejaVuSans-69" transform="translate(264.648438 0)"/>
<use href="#DejaVuSans-74" transform="translate(292.431641 0)"/>
<use href="#DejaVuSans-79" transform="translate(331.640625 0)"/>
</g>
</g>
</g>
<g id="line2d_23">
<g clip-path="url(#pd83d0a4c0b)">
<use href="#m07281500a2" x="329.7600" y="158.6880" style="fill: #ff0000; stroke: #ff0000; stroke-width: 1.5"/>
<use href="#m07281500a2" x="332.0640" y="155.8080" style="fill: #ff0000; stroke: #ff0000; stroke-width: 1.5"/>
<use href="#m07281500a2" x="334.9440" y="152.9280" style="fill: #ff0000; stroke: #ff0000; stroke-width: 1.5"/>
<use href="#m07281500a2" x="337.2480" y="150.0480" style="fill: #ff0000; stroke: #ff0000; stroke-width: 1.5"/>
<use href="#m07281500a2" x="340.1280" y="147.1680" style="fill: #ff0000; stroke: #ff0000; stroke-width: 1.5"/>
<use href="#m07281500a2" x="342.4320" y="144.2880" style="fill: #ff0000; stroke: #ff0000; stroke-width: 1.5"/>
<use href="#m07281500a2" x="345.3120" y="141.4080" style="fill: #ff0000; stroke: #ff0000; stroke-width: 1.5"/>
<use href="#m07281500a2" x="348.1920" y="136.2240" style="fill: #ff0000; stroke: #ff0000; stroke-width: 1.5"/>
<use href="#m07281500a2" x="350.4960" y="131.0400" style="fill: #ff0000; stroke: #ff0000; stroke-width: 1.5"/>
<use href="#m07281500a2" x="353.3760" y="124.7040" style="fill: #ff0000; stroke: #ff0000; stroke-width: 1.5"/>
<use href="#m07281500a2" x="355.6800" y="118.9440" style="fill: #ff0000; stroke: #ff0000; stroke-width: 1.5"/>
<use href="#m07281500a2" x="358.5600" y="115.4880" style="fill: #ff0000; stroke: #ff0000; stroke-width: 1.5"/>
<use href="#m07281500a2" x="360.8640" y="110.8800" style="fill: #ff0000; stroke: #ff0000; stroke-width: 1.5"/>
<use href="#m07281500a2" x="363.7440" y="108.0000" style="fill: #ff0000; stroke: #ff0000; stroke-width: 1.5"/>
<use href="#m07281500a2" x="366.0480" y="106.8480" style="fill: #ff0000; stroke: #ff0000; stroke-width: 1.5"/>
<use href="#m07281500a2" x="368.9280" y="105.6960" style="fill: #ff0000; stroke: #ff0000; stroke-width: 1.5"/>
<use href="#m07281500a2" x="371.8080" y="104.5440" style="fill: #ff0000; stroke: #ff0000; stroke-width: 1.5"/>
<use href="#m07281500a2" x="374.1120" y="102.8160" style="fill: #ff0000; stroke: #ff0000; stroke-width: 1.5"/>
<use href="#m07281500a2" x="376.9920" y="102.2400" style="fill: #ff0000; stroke: #ff0000; stroke-width: 1.5"/>
<use href="#m07281500a2" x="379.2960" y="99.9360" style="fill: #ff0000; stroke: #ff0000; stroke-width: 1.5"/>
<use href="#m07281500a2" x="382.1760" y="98.2080" style="fill: #ff0000; stroke: #ff0000; stroke-width: 1.5"/>
<use href="#m07281500a2" x="384.4800" y="98.2080" style="fill: #ff0000; stroke: #ff0000; stroke-width: 1.5"/>
<use href="#m07281500a2" x="387.3600" y="95.3280" style="fill: #ff0000; stroke: #ff0000; stroke-width: 1.5"/>
<use href="#m07281500a2" x="389.6640" y="92.4480" style="fill: #ff0000; stroke: #ff0000; stroke-width: 1.5"/>
<use href="#m07281500a2" x="392.5440" y="89.5680" style="fill: #ff0000; stroke: #ff0000; stroke-width: 1.5"/>
<use href="#m07281500a2" x="395.4240" y="86.6880" style="fill: #ff0000; stroke: #ff0000; stroke-width: 1.5"/>
<use href="#m07281500a2" x="397.7280" y="83.8080" style="fill: #ff0000; stroke: #ff0000; stroke-width: 1.5"/>
<use href="#m07281500a2" x="400.6080" y="80.3520" style="fill: #ff0000; stroke: #ff0000; stroke-width: 1.5"/>
<use href="#m07281500a2" x="402.9120" y="77.4720" style="fill: #ff0000; stroke: #ff0000; stroke-width: 1.5"/>
<use href="#m07281500a2" x="405.7920" y="74.5920" style="fill: #ff0000; stroke: #ff0000; stroke-width: 1.5"/>
<use href="#m07281500a2" x="408.0960" y="71.7120" style="fill: #ff0000; stroke: #ff0000; stroke-width: 1.5"/>
<use href="#m07281500a2" x="410.9760" y="68.2560" style="fill: #ff0000; stroke: #ff0000; stroke-width: 1.5"/>
<use href="#m07281500a2" x="413.2800" y="64.8000" style="fill: #ff0000; stroke: #ff0000; stroke-width: 1.5"/>
<use href="#m07281500a2" x="416.1600" y="61.3440" style="fill: #ff0000; stroke: #ff0000; stroke-width: 1.5"/>
<use href="#m07281500a2" x="419.0400" y="59.0400" style="fill: #ff0000; stroke: #ff0000; stroke-width: 1.5"/>
<use href="#m07281500a2" x="421.3440" y="55.0080" style="fill: #ff0000; stroke: #ff0000; stroke-width: 1.5"/>
<use href="#m07281500a2" x="424.2240" y="50.9760" style="fill: #ff0000; stroke: #ff0000; stroke-width: 1.5"/>
<use href="#m07281500a2" x="426.5280" y="46.3680" style="fill: #ff0000; stroke: #ff0000; stroke-width: 1.5"/>
<use href="#m07281500a2" x="429.4080" y="41.7600" style="fill: #ff0000; stroke: #ff0000; stroke-width: 1.5"/>
<use href="#m07281500a2" x="431.7120" y="37.1520" style="fill: #ff0000; stroke: #ff0000; stroke-width: 1.5"/>
<use href="#m07281500a2" x="434.5920" y="27.9360" style="fill: #ff0000; stroke: #ff0000; stroke-width: 1.5"/>
<use href="#m07281500a2" x="436.8960" y="30.8160" style="fill: #ff0000; stroke: #ff0000; stroke-width: 1.5"/>
<use href="#m07281500a2" x="439.7760" y="61.9200" style="fill: #ff0000; stroke: #ff0000; stroke-width: 1.5"/>
<use href="#m07281500a2" x="442.6560" y="128.1600" style="fill: #ff0000; stroke: #ff0000; stroke-width: 1.5"/>
<use href="#m07281500a2" x="444.9600" y="157.5360" style="fill: #ff0000; stroke: #ff0000; stroke-width: 1.5"/>
<use href="#m07281500a2" x="447.8400" y="160.4160" style="fill: #ff0000; stroke: #ff0000; stroke-width: 1.5"/>
<use href="#m07281500a2" x="450.1440" y="160.4160" style="fill: #ff0000; stroke: #ff0000; stroke-width: 1.5"/>
<use href="#m07281500a2" x="453.0240" y="160.4160" style="fill: #ff0000; stroke: #ff0000; stroke-width: 1.5"/>
<use href="#m07281500a2" x="455.3280" y="160.4160" style="fill: #ff0000; stroke: #ff0000; stroke-width: 1.5"/>
<use href="#m07281500a2" x="458.2080" y="160.4160" style="fill: #ff0000; stroke: #ff0000; stroke-width: 1.5"/>
<use href="#m07281500a2" x="460.5120" y="160.4160" style="fill: #ff0000; stroke: #ff0000; stroke-width: 1.5"/>
<use href="#m07281500a2" x="463.3920" y="160.4160" style="fill: #ff0000; stroke: #ff0000; stroke-width: 1.5"/>
<use href="#m07281500a2" x="466.2720" y="160.4160" style="fill: #ff0000; stroke: #ff0000; stroke-width: 1.5"/>
<use href="#m07281500a2" x="468.5760" y="160.4160" style="fill: #ff0000; stroke: #ff0000; stroke-width: 1.5"/>
<use href="#m07281500a2" x="471.4560" y="160.4160" style="fill: #ff0000; stroke: #ff0000; stroke-width: 1.5"/>
<use href="#m07281500a2" x="473.7600" y="160.4160" style="fill: #ff0000; stroke: #ff0000; stroke-width: 1.5"/>
<use href="#m07281500a2" x="476.6400" y="160.4160" style="fill: #ff0000; stroke: #ff0000; stroke-width: 1.5"/>
<use href="#m07281500a2" x="478.9440" y="160.4160" style="fill: #ff0000; stroke: #ff0000; stroke-width: 1.5"/>
<use href="#m07281500a2" x="481.8240" y="160.4160" style="fill: #ff0000; stroke: #ff0000; stroke-width: 1.5"/>
<use href="#m07281500a2" x="484.7040" y="160.4160" style="fill: #ff0000; stroke: #ff0000; stroke-width: 1.5"/>
<use href="#m07281500a2" x="487.0080" y="160.4160" style="fill: #ff0000; stroke: #ff0000; stroke-width: 1.5"/>
<use href="#m07281500a2" x="489.8880" y="160.4160" style="fill: #ff0000; stroke: #ff0000; stroke-width: 1.5"/>
<use href="#m07281500a2" x="492.1920" y="160.4160" style="fill: #ff0000; stroke: #ff0000; stroke-width: 1.5"/>
<use href="#m07281500a2" x="495.0720" y="160.4160" style="fill: #ff0000; stroke: #ff0000; stroke-width: 1.5"/>
<use href="#m07281500a2" x="497.3760" y="160.4160" style="fill: #ff0000; stroke: #ff0000; stroke-width: 1.5"/>
<use href="#m07281500a2" x="500.2560" y="160.4160" style="fill: #ff0000; stroke: #ff0000; stroke-width: 1.5"/>
<use href="#m07281500a2" x="502.5600" y="160.4160" style="fill: #ff0000; stroke: #ff0000; stroke-width: 1.5"/>
<use href="#m07281500a2" x="505.4400" y="160.4160" style="fill: #ff0000; stroke: #ff0000; stroke-width: 1.5"/>
<use href="#m07281500a2" x="508.3200" y="160.4160" style="fill: #ff0000; stroke: #ff0000; stroke-width: 1.5"/>
<use href="#m07281500a2" x="510.6240" y="160.4160" style="fill: #ff0000; stroke: #ff0000; stroke-width: 1.5"/>
<use href="#m07281500a2" x="513.5040" y="160.4160" style="fill: #ff0000; stroke: #ff0000; stroke-width: 1.5"/>
<use href="#m07281500a2" x="515.8080" y="160.4160" style="fill: #ff0000; stroke: #ff0000; stroke-width: 1.5"/>
<use href="#m07281500a2" x="518.6880" y="160.4160" style="fill: #ff0000; stroke: #ff0000; stroke-width: 1.5"/>
<use href="#m07281500a2" x="520.9920" y="160.4160" style="fill: #ff0000; stroke: #ff0000; stroke-width: 1.5"/>
<use href="#m07281500a2" x="523.8720" y="160.4160" style="fill: #ff0000; stroke: #ff0000; stroke-width: 1.5"/>
<use href="#m07281500a2" x="526.1760" y="160.4160" style="fill: #ff0000; stroke: #ff0000; stroke-width: 1.5"/>
<use href="#m07281500a2" x="529.0560" y="160.4160" style="fill: #ff0000; stroke: #ff0000; stroke-width: 1.5"/>
<use href="#m07281500a2" x="531.9360" y="160.4160" style="fill: #ff0000; stroke: #ff0000; stroke-width: 1.5"/>
</g>
</g>
<g id="patch_8">
<path d="M 328.0320 167.3280 L 328.0320 13.5360" style="fill: none; stroke: #000000; stroke-width: 0.8; stroke-linejoin: miter; stroke-linecap: square"/>
</g>
<g id="patch_9">
<path d="M 529.6320 167.3280 L 529.6320 13.5360" style="fill: none; stroke: #000000; stroke-width: 0.8; stroke-linejoin: miter; stroke-linecap: square"/>
</g>
<g id="patch_10">
<path d="M 328.0320 167.3280 L 529.6320 167.3280" style="fill: none; stroke: #000000; stroke-width: 0.8; stroke-linejoin: miter; stroke-linecap: square"/>
</g>
<g id="patch_11">
<path d="M 328.0320 13.5360 L 529.6320 13.5360" style="fill: none; stroke: #000000; stroke-width: 0.8; stroke-linejoin: miter; stroke-linecap: square"/>
</g>
<g id="line2d_24">
<path d="M 328.7331 159.18261
L 396.4581 84.483829
L 404.3331 75.494733
L 410.6331 67.948157
L 415.3581 61.888612
L 418.5081 57.547487
L 421.6581 52.867493
L 424.8081 47.741467
L 427.9581 42.042846
L 431.1081 35.634915
L 434.2581 28.392668
L 437.4081 20.238545
L 438.9831 160.049455
L 528.7581 160.049455
L 528.7581 160.049455
" clip-path="url(#pd83d0a4c0b)" style="fill: none; stroke: #1f77b4; stroke-width: 1.5; stroke-linecap: square"/>
</g>
</g>
<g id="axes_3">
<g id="patch_12">
<path d="M 51.65568 367.488
L 253.39968 367.488
L 253.39968 214.272
L 51.65568 214.272
z
" style="fill: #ffffff"/>
</g>
<g id="matplotlib.axis_5">
<g id="xtick_9">
<g id="line2d_25">
<g>
<use href="#m15b3f0bd22" x="52.1280" y="367.7760" style="stroke: #000000; stroke-width: 0.8"/>
</g>
</g>
<g id="text_25" class="t" transform="translate(0.4608 -0.1728)">
<!-- 0.0 -->
<g transform="translate(42.113805 383.606125) scale(0.12 -0.12)">
<use href="#DejaVuSans-30"/>
<use href="#DejaVuSans-2e" transform="translate(63.623047 0)"/>
<use href="#DejaVuSans-30" transform="translate(95.410156 0)"/>
</g>
</g>
</g>
<g id="xtick_10">
<g id="line2d_26">
<g>
<use href="#m15b3f0bd22" x="118.9440" y="367.7760" style="stroke: #000000; stroke-width: 0.8"/>
</g>
</g>
<g id="text_26" class="t" transform="translate(0.4608 -0.1728)">
<!-- 0.1 -->
<g transform="translate(109.361805 383.606125) scale(0.12 -0.12)">
<use href="#DejaVuSans-30"/>
<use href="#DejaVuSans-2e" transform="translate(63.623047 0)"/>
<use href="#DejaVuSans-31" transform="translate(95.410156 0)"/>
</g>
</g>
</g>
<g id="xtick_11">
<g id="line2d_27">
<g>
<use href="#m15b3f0bd22" x="186.3360" y="367.7760" style="stroke: #000000; stroke-width: 0.8"/>
</g>
</g>
<g id="text_27" class="t" transform="translate(0.4608 -0.1728)">
<!-- 0.2 -->
<g transform="translate(176.609805 383.606125) scale(0.12 -0.12)">
<use href="#DejaVuSans-30"/>
<use href="#DejaVuSans-2e" transform="translate(63.623047 0)"/>
<use href="#DejaVuSans-32" transform="translate(95.410156 0)"/>
</g>
</g>
</g>
<g id="xtick_12">
<g id="line2d_28">
<g>
<use href="#m15b3f0bd22" x="253.7280" y="367.7760" style="stroke: #000000; stroke-width: 0.8"/>
</g>
</g>
<g id="text_28" class="t" transform="translate(0.4608 -0.1728)">
<!-- 0.3 -->
<g transform="translate(243.857805 383.606125) scale(0.12 -0.12)">
<use href="#DejaVuSans-30"/>
<use href="#DejaVuSans-2e" transform="translate(63.623047 0)"/>
<use href="#DejaVuSans-33" transform="translate(95.410156 0)"/>
</g>
</g>
</g>
<g id="text_29" class="t" transform="translate(0.4608 -0.2304) translate(152.5033 395.9386) scale(1.0000 1.0000) translate(-152.5033 -395.9386)">
<!-- x -->
<g transform="translate(148.97643 399.219875) scale(0.12 -0.12)">
<use href="#DejaVuSans-78"/>
</g>
</g>
</g>
<g id="matplotlib.axis_6">
<g id="ytick_13">
<g id="line2d_29">
<g>
<use href="#me904bfcc6c" x="52.1280" y="360.8640" style="stroke: #000000; stroke-width: 0.8"/>
</g>
</g>
<g id="text_30" class="t" transform="translate(0.4608 -0.1728)">
<!-- 0 -->
<g transform="translate(37.02068 365.082699) scale(0.12 -0.12)">
<use href="#DejaVuSans-30"/>
</g>
</g>
</g>
<g id="ytick_14">
<g id="line2d_30">
<g>
<use href="#me904bfcc6c" x="52.1280" y="319.9680" style="stroke: #000000; stroke-width: 0.8"/>
</g>
</g>
<g id="text_31" class="t" transform="translate(0.4608 -0.1728)">
<!-- 10 -->
<g transform="translate(29.38568 324.016529) scale(0.12 -0.12)">
<use href="#DejaVuSans-31"/>
<use href="#DejaVuSans-30" transform="translate(63.623047 0)"/>
</g>
</g>
</g>
<g id="ytick_15">
<g id="line2d_31">
<g>
<use href="#me904bfcc6c" x="52.1280" y="278.4960" style="stroke: #000000; stroke-width: 0.8"/>
</g>
</g>
<g id="text_32" class="t" transform="translate(0.4608 -0.1728)">
<!-- 20 -->
<g transform="translate(29.38568 282.950359) scale(0.12 -0.12)">
<use href="#DejaVuSans-32"/>
<use href="#DejaVuSans-30" transform="translate(63.623047 0)"/>
</g>
</g>
</g>
<g id="ytick_16">
<g id="line2d_32">
<g>
<use href="#me904bfcc6c" x="52.1280" y="237.6000" style="stroke: #000000; stroke-width: 0.8"/>
</g>
</g>
<g id="text_33" class="t" transform="translate(0.4608 -0.1728)">
<!-- 30 -->
<g transform="translate(29.38568 241.884189) scale(0.12 -0.12)">
<use href="#DejaVuSans-33"/>
<use href="#DejaVuSans-30" transform="translate(63.623047 0)"/>
</g>
</g>
</g>
<g id="text_34" class="t" transform="translate(0.2592 1.5264) translate(20.7779 290.6545) scale(1.0000 1.0330) translate(-20.7779 -290.6545)">
<!-- pressure -->
<g transform="translate(22.890055 316.789687) rotate(-90) scale(0.12 -0.12)">
<defs>
<path id="DejaVuSans-70" d="M 1159 525
L 1159 -1331
L 581 -1331
L 581 3500
L 1159 3500
L 1159 2969
Q 1341 3281 1617 3432
Q 1894 3584 2278 3584
Q 2916 3584 3314 3078
Q 3713 2572 3713 1747
Q 3713 922 3314 415
Q 2916 -91 2278 -91
Q 1894 -91 1617 61
Q 1341 213 1159 525
z
M 3116 1747
Q 3116 2381 2855 2742
Q 2594 3103 2138 3103
Q 1681 3103 1420 2742
Q 1159 2381 1159 1747
Q 1159 1113 1420 752
Q 1681 391 2138 391
Q 2594 391 2855 752
Q 3116 1113 3116 1747
z
" transform="scale(0.015625)"/>
<path id="DejaVuSans-72" d="M 2631 2963
Q 2534 3019 2420 3045
Q 2306 3072 2169 3072
Q 1681 3072 1420 2755
Q 1159 2438 1159 1844
L 1159 0
L 581 0
L 581 3500
L 1159 3500
L 1159 2956
Q 1341 3275 1631 3429
Q 1922 3584 2338 3584
Q 2397 3584 2469 3576
Q 2541 3569 2628 3553
L 2631 2963
z
" transform="scale(0.015625)"/>
<path id="DejaVuSans-75" d="M 544 1381
L 544 3500
L 1119 3500
L 1119 1403
Q 1119 906 1312 657
Q 1506 409 1894 409
Q 2359 409 2629 706
Q 2900 1003 2900 1516
L 2900 3500
L 3475 3500
L 3475 0
L 2900 0
L 2900 538
Q 2691 219 2414 64
Q 2138 -91 1772 -91
Q 1169 -91 856 284
Q 544 659 544 1381
z
M 1991 3584
L 1991 3584
z
" transform="scale(0.015625)"/>
</defs>
<use href="#DejaVuSans-70"/>
<use href="#DejaVuSans-72" transform="translate(63.476562 0)"/>
<use href="#DejaVuSans-65" transform="translate(102.339844 0)"/>
<use href="#DejaVuSans-73" transform="translate(163.863281 0)"/>
<use href="#DejaVuSans-73" transform="translate(215.962891 0)"/>
<use href="#DejaVuSans-75" transform="translate(268.0625 0)"/>
<use href="#DejaVuSans-72" transform="translate(331.441406 0)"/>
<use href="#DejaVuSans-65" transform="translate(370.304688 0)"/>
</g>
</g>
</g>
<g id="line2d_33">
<g clip-path="url(#p1380a5c26d)">
<use href="#m07281500a2" x="53.2800" y="309.6000" style="fill: #ff0000; stroke: #ff0000; stroke-width: 1.5"/>
<use href="#m07281500a2" x="56.1600" y="309.6000" style="fill: #ff0000; stroke: #ff0000; stroke-width: 1.5"/>
<use href="#m07281500a2" x="58.4640" y="309.6000" style="fill: #ff0000; stroke: #ff0000; stroke-width: 1.5"/>
<use href="#m07281500a2" x="61.3440" y="309.6000" style="fill: #ff0000; stroke: #ff0000; stroke-width: 1.5"/>
<use href="#m07281500a2" x="63.6480" y="309.6000" style="fill: #ff0000; stroke: #ff0000; stroke-width: 1.5"/>
<use href="#m07281500a2" x="66.5280" y="309.6000" style="fill: #ff0000; stroke: #ff0000; stroke-width: 1.5"/>
<use href="#m07281500a2" x="68.8320" y="309.6000" style="fill: #ff0000; stroke: #ff0000; stroke-width: 1.5"/>
<use href="#m07281500a2" x="71.7120" y="309.6000" style="fill: #ff0000; stroke: #ff0000; stroke-width: 1.5"/>
<use href="#m07281500a2" x="74.0160" y="309.6000" style="fill: #ff0000; stroke: #ff0000; stroke-width: 1.5"/>
<use href="#m07281500a2" x="76.8960" y="309.6000" style="fill: #ff0000; stroke: #ff0000; stroke-width: 1.5"/>
<use href="#m07281500a2" x="79.7760" y="309.6000" style="fill: #ff0000; stroke: #ff0000; stroke-width: 1.5"/>
<use href="#m07281500a2" x="82.0800" y="309.6000" style="fill: #ff0000; stroke: #ff0000; stroke-width: 1.5"/>
<use href="#m07281500a2" x="84.9600" y="309.6000" style="fill: #ff0000; stroke: #ff0000; stroke-width: 1.5"/>
<use href="#m07281500a2" x="87.2640" y="309.6000" style="fill: #ff0000; stroke: #ff0000; stroke-width: 1.5"/>
<use href="#m07281500a2" x="90.1440" y="309.6000" style="fill: #ff0000; stroke: #ff0000; stroke-width: 1.5"/>
<use href="#m07281500a2" x="92.4480" y="309.6000" style="fill: #ff0000; stroke: #ff0000; stroke-width: 1.5"/>
<use href="#m07281500a2" x="95.3280" y="309.6000" style="fill: #ff0000; stroke: #ff0000; stroke-width: 1.5"/>
<use href="#m07281500a2" x="97.6320" y="309.6000" style="fill: #ff0000; stroke: #ff0000; stroke-width: 1.5"/>
<use href="#m07281500a2" x="100.5120" y="309.6000" style="fill: #ff0000; stroke: #ff0000; stroke-width: 1.5"/>
<use href="#m07281500a2" x="103.3920" y="309.6000" style="fill: #ff0000; stroke: #ff0000; stroke-width: 1.5"/>
<use href="#m07281500a2" x="105.6960" y="309.6000" style="fill: #ff0000; stroke: #ff0000; stroke-width: 1.5"/>
<use href="#m07281500a2" x="108.5760" y="309.6000" style="fill: #ff0000; stroke: #ff0000; stroke-width: 1.5"/>
<use href="#m07281500a2" x="110.8800" y="309.0240" style="fill: #ff0000; stroke: #ff0000; stroke-width: 1.5"/>
<use href="#m07281500a2" x="113.7600" y="309.0240" style="fill: #ff0000; stroke: #ff0000; stroke-width: 1.5"/>
<use href="#m07281500a2" x="116.0640" y="309.0240" style="fill: #ff0000; stroke: #ff0000; stroke-width: 1.5"/>
<use href="#m07281500a2" x="118.9440" y="309.0240" style="fill: #ff0000; stroke: #ff0000; stroke-width: 1.5"/>
<use href="#m07281500a2" x="121.8240" y="308.4480" style="fill: #ff0000; stroke: #ff0000; stroke-width: 1.5"/>
<use href="#m07281500a2" x="124.1280" y="308.4480" style="fill: #ff0000; stroke: #ff0000; stroke-width: 1.5"/>
<use href="#m07281500a2" x="127.0080" y="307.8720" style="fill: #ff0000; stroke: #ff0000; stroke-width: 1.5"/>
<use href="#m07281500a2" x="129.3120" y="307.8720" style="fill: #ff0000; stroke: #ff0000; stroke-width: 1.5"/>
<use href="#m07281500a2" x="132.1920" y="306.7200" style="fill: #ff0000; stroke: #ff0000; stroke-width: 1.5"/>
<use href="#m07281500a2" x="134.4960" y="306.1440" style="fill: #ff0000; stroke: #ff0000; stroke-width: 1.5"/>
<use href="#m07281500a2" x="137.3760" y="304.9920" style="fill: #ff0000; stroke: #ff0000; stroke-width: 1.5"/>
<use href="#m07281500a2" x="139.6800" y="303.2640" style="fill: #ff0000; stroke: #ff0000; stroke-width: 1.5"/>
<use href="#m07281500a2" x="142.5600" y="301.5360" style="fill: #ff0000; stroke: #ff0000; stroke-width: 1.5"/>
<use href="#m07281500a2" x="145.4400" y="299.2320" style="fill: #ff0000; stroke: #ff0000; stroke-width: 1.5"/>
<use href="#m07281500a2" x="147.7440" y="297.5040" style="fill: #ff0000; stroke: #ff0000; stroke-width: 1.5"/>
<use href="#m07281500a2" x="150.6240" y="292.3200" style="fill: #ff0000; stroke: #ff0000; stroke-width: 1.5"/>
<use href="#m07281500a2" x="152.9280" y="285.9840" style="fill: #ff0000; stroke: #ff0000; stroke-width: 1.5"/>
<use href="#m07281500a2" x="155.8080" y="277.3440" style="fill: #ff0000; stroke: #ff0000; stroke-width: 1.5"/>
<use href="#m07281500a2" x="158.1120" y="258.9120" style="fill: #ff0000; stroke: #ff0000; stroke-width: 1.5"/>
<use href="#m07281500a2" x="160.9920" y="257.7600" style="fill: #ff0000; stroke: #ff0000; stroke-width: 1.5"/>
<use href="#m07281500a2" x="163.8720" y="296.3520" style="fill: #ff0000; stroke: #ff0000; stroke-width: 1.5"/>
<use href="#m07281500a2" x="166.1760" y="347.6160" style="fill: #ff0000; stroke: #ff0000; stroke-width: 1.5"/>
<use href="#m07281500a2" x="169.0560" y="360.8640" style="fill: #ff0000; stroke: #ff0000; stroke-width: 1.5"/>
<use href="#m07281500a2" x="171.3600" y="360.8640" style="fill: #ff0000; stroke: #ff0000; stroke-width: 1.5"/>
<use href="#m07281500a2" x="174.2400" y="360.8640" style="fill: #ff0000; stroke: #ff0000; stroke-width: 1.5"/>
<use href="#m07281500a2" x="176.5440" y="360.8640" style="fill: #ff0000; stroke: #ff0000; stroke-width: 1.5"/>
<use href="#m07281500a2" x="179.4240" y="360.8640" style="fill: #ff0000; stroke: #ff0000; stroke-width: 1.5"/>
<use href="#m07281500a2" x="181.7280" y="360.8640" style="fill: #ff0000; stroke: #ff0000; stroke-width: 1.5"/>
<use href="#m07281500a2" x="184.6080" y="360.8640" style="fill: #ff0000; stroke: #ff0000; stroke-width: 1.5"/>
<use href="#m07281500a2" x="187.4880" y="360.8640" style="fill: #ff0000; stroke: #ff0000; stroke-width: 1.5"/>
<use href="#m07281500a2" x="189.7920" y="360.8640" style="fill: #ff0000; stroke: #ff0000; stroke-width: 1.5"/>
<use href="#m07281500a2" x="192.6720" y="360.8640" style="fill: #ff0000; stroke: #ff0000; stroke-width: 1.5"/>
<use href="#m07281500a2" x="194.9760" y="360.8640" style="fill: #ff0000; stroke: #ff0000; stroke-width: 1.5"/>
<use href="#m07281500a2" x="197.8560" y="360.8640" style="fill: #ff0000; stroke: #ff0000; stroke-width: 1.5"/>
<use href="#m07281500a2" x="200.1600" y="360.8640" style="fill: #ff0000; stroke: #ff0000; stroke-width: 1.5"/>
<use href="#m07281500a2" x="203.0400" y="360.8640" style="fill: #ff0000; stroke: #ff0000; stroke-width: 1.5"/>
<use href="#m07281500a2" x="205.3440" y="360.8640" style="fill: #ff0000; stroke: #ff0000; stroke-width: 1.5"/>
<use href="#m07281500a2" x="208.2240" y="360.8640" style="fill: #ff0000; stroke: #ff0000; stroke-width: 1.5"/>
<use href="#m07281500a2" x="211.1040" y="360.8640" style="fill: #ff0000; stroke: #ff0000; stroke-width: 1.5"/>
<use href="#m07281500a2" x="213.4080" y="360.8640" style="fill: #ff0000; stroke: #ff0000; stroke-width: 1.5"/>
<use href="#m07281500a2" x="216.2880" y="360.8640" style="fill: #ff0000; stroke: #ff0000; stroke-width: 1.5"/>
<use href="#m07281500a2" x="218.5920" y="360.8640" style="fill: #ff0000; stroke: #ff0000; stroke-width: 1.5"/>
<use href="#m07281500a2" x="221.4720" y="360.8640" style="fill: #ff0000; stroke: #ff0000; stroke-width: 1.5"/>
<use href="#m07281500a2" x="223.7760" y="360.8640" style="fill: #ff0000; stroke: #ff0000; stroke-width: 1.5"/>
<use href="#m07281500a2" x="226.6560" y="360.8640" style="fill: #ff0000; stroke: #ff0000; stroke-width: 1.5"/>
<use href="#m07281500a2" x="229.5360" y="360.8640" style="fill: #ff0000; stroke: #ff0000; stroke-width: 1.5"/>
<use href="#m07281500a2" x="231.8400" y="360.8640" style="fill: #ff0000; stroke: #ff0000; stroke-width: 1.5"/>
<use href="#m07281500a2" x="234.7200" y="360.8640" style="fill: #ff0000; stroke: #ff0000; stroke-width: 1.5"/>
<use href="#m07281500a2" x="237.0240" y="360.8640" style="fill: #ff0000; stroke: #ff0000; stroke-width: 1.5"/>
<use href="#m07281500a2" x="239.9040" y="360.8640" style="fill: #ff0000; stroke: #ff0000; stroke-width: 1.5"/>
<use href="#m07281500a2" x="242.2080" y="360.8640" style="fill: #ff0000; stroke: #ff0000; stroke-width: 1.5"/>
<use href="#m07281500a2" x="245.0880" y="360.8640" style="fill: #ff0000; stroke: #ff0000; stroke-width: 1.5"/>
<use href="#m07281500a2" x="247.3920" y="360.8640" style="fill: #ff0000; stroke: #ff0000; stroke-width: 1.5"/>
<use href="#m07281500a2" x="250.2720" y="360.8640" style="fill: #ff0000; stroke: #ff0000; stroke-width: 1.5"/>
<use href="#m07281500a2" x="253.1520" y="360.8640" style="fill: #ff0000; stroke: #ff0000; stroke-width: 1.5"/>
<use href="#m07281500a2" x="255.4560" y="360.8640" style="fill: #ff0000; stroke: #ff0000; stroke-width: 1.5"/>
</g>
</g>
<g id="patch_13">
<path d="M 52.1280 367.7760 L 52.1280 214.5600" style="fill: none; stroke: #000000; stroke-width: 0.8; stroke-linejoin: miter; stroke-linecap: square"/>
</g>
<g id="patch_14">
<path d="M 253.7280 367.7760 L 253.7280 214.5600" style="fill: none; stroke: #000000; stroke-width: 0.8; stroke-linejoin: miter; stroke-linecap: square"/>
</g>
<g id="patch_15">
<path d="M 52.1280 367.7760 L 253.7280 367.7760" style="fill: none; stroke: #000000; stroke-width: 0.8; stroke-linejoin: miter; stroke-linecap: square"/>
</g>
<g id="patch_16">
<path d="M 52.1280 214.5600 L 253.7280 214.5600" style="fill: none; stroke: #000000; stroke-width: 0.8; stroke-linejoin: miter; stroke-linecap: square"/>
</g>
<g id="line2d_34">
<path d="M 52.443743 306.948194
L 109.184243 306.855336
L 117.064868 306.632742
L 121.793243 306.33327
L 126.521618 305.796313
L 129.673868 305.229784
L 132.826118 304.415508
L 135.978368 303.251502
L 137.554493 302.494703
L 139.130618 301.590513
L 140.706743 300.509268
L 142.282868 299.214319
L 143.858993 297.659947
L 145.435118 295.788561
L 147.011243 293.526764
L 148.587368 290.779885
L 150.163493 287.4242
L 151.739618 283.295692
L 153.315743 278.173462
L 154.891868 271.754714
L 156.467993 263.616193
L 158.044118 253.152547
L 159.620243 239.474912
L 161.196368 221.236364
L 162.772493 360.523636
L 252.611618 360.523636
L 252.611618 360.523636
" clip-path="url(#p1380a5c26d)" style="fill: none; stroke: #1f77b4; stroke-width: 1.5; stroke-linecap: square"/>
</g>
</g>
<g id="axes_4">
<g id="patch_17">
<path d="M 327.9456 367.488
L 529.5456 367.488
L 529.5456 214.272
L 327.9456 214.272
z
" style="fill: #ffffff"/>
</g>
<g id="matplotlib.axis_7">
<g id="xtick_13">
<g id="line2d_35">
<g>
<use href="#m15b3f0bd22" x="328.0320" y="367.7760" style="stroke: #000000; stroke-width: 0.8"/>
</g>
</g>
<g id="text_35" class="t" transform="translate(0.0288 -0.1728)">
<!-- 0.0 -->
<g transform="translate(318.403725 383.606125) scale(0.12 -0.12)">
<use href="#DejaVuSans-30"/>
<use href="#DejaVuSans-2e" transform="translate(63.623047 0)"/>
<use href="#DejaVuSans-30" transform="translate(95.410156 0)"/>
</g>
</g>
</g>
<g id="xtick_14">
<g id="line2d_36">
<g>
<use href="#m15b3f0bd22" x="395.4240" y="367.7760" style="stroke: #000000; stroke-width: 0.8"/>
</g>
</g>
<g id="text_36" class="t" transform="translate(0.0288 -0.1728)">
<!-- 0.1 -->
<g transform="translate(385.603725 383.606125) scale(0.12 -0.12)">
<use href="#DejaVuSans-30"/>
<use href="#DejaVuSans-2e" transform="translate(63.623047 0)"/>
<use href="#DejaVuSans-31" transform="translate(95.410156 0)"/>
</g>
</g>
</g>
<g id="xtick_15">
<g id="line2d_37">
<g>
<use href="#m15b3f0bd22" x="462.8160" y="367.7760" style="stroke: #000000; stroke-width: 0.8"/>
</g>
</g>
<g id="text_37" class="t" transform="translate(0.0288 -0.1728)">
<!-- 0.2 -->
<g transform="translate(452.803725 383.606125) scale(0.12 -0.12)">
<use href="#DejaVuSans-30"/>
<use href="#DejaVuSans-2e" transform="translate(63.623047 0)"/>
<use href="#DejaVuSans-32" transform="translate(95.410156 0)"/>
</g>
</g>
</g>
<g id="xtick_16">
<g id="line2d_38">
<g>
<use href="#m15b3f0bd22" x="529.6320" y="367.7760" style="stroke: #000000; stroke-width: 0.8"/>
</g>
</g>
<g id="text_38" class="t" transform="translate(0.0288 -0.1728)">
<!-- 0.3 -->
<g transform="translate(520.003725 383.606125) scale(0.12 -0.12)">
<use href="#DejaVuSans-30"/>
<use href="#DejaVuSans-2e" transform="translate(63.623047 0)"/>
<use href="#DejaVuSans-33" transform="translate(95.410156 0)"/>
</g>
</g>
</g>
<g id="text_39" class="t" transform="translate(0.5472 -0.2304) translate(428.7212 395.9386) scale(1.0000 1.0000) translate(-428.7212 -395.9386)">
<!-- x -->
<g transform="translate(425.19435 399.219875) scale(0.12 -0.12)">
<use href="#DejaVuSans-78"/>
</g>
</g>
</g>
<g id="matplotlib.axis_8">
<g id="ytick_17">
<g id="line2d_39">
<g>
<use href="#me904bfcc6c" x="328.0320" y="344.1600" style="stroke: #000000; stroke-width: 0.8"/>
</g>
</g>
<g id="text_40" class="t" transform="translate(0.0288 1.0944) translate(0.0000 0.0000) scale(1.0000 1.0000) translate(-0.0000 -0.0000)">
<!-- $\mathdefault{10^{-2}}$ -->
<g transform="translate(292.7456 348.327031) scale(0.12 -0.12)">
<defs>
<path id="DejaVuSans-2212" d="M 678 2272
L 4684 2272
L 4684 1741
L 678 1741
L 678 2272
z
" transform="scale(0.015625)"/>
</defs>
<use href="#DejaVuSans-31" transform="translate(0 0.765625)"/>
<use href="#DejaVuSans-30" transform="translate(63.623047 0.765625)"/>
<use href="#DejaVuSans-2212" transform="translate(128.203125 39.046875) scale(0.7)"/>
<use href="#DejaVuSans-32" transform="translate(186.855469 39.046875) scale(0.7)"/>
</g>
</g>
</g>
<g id="ytick_18">
<g id="line2d_40">
<g>
<use href="#me904bfcc6c" x="328.0320" y="318.8160" style="stroke: #000000; stroke-width: 0.8"/>
</g>
</g>
<g id="text_41" class="t" transform="translate(0.0288 1.0944) translate(0.0000 0.0000) scale(1.0000 1.0000) translate(-0.0000 -0.0000)">
<!-- $\mathdefault{10^{2}}$ -->
<g transform="translate(299.8256 322.869525) scale(0.12 -0.12)">
<use href="#DejaVuSans-31" transform="translate(0 0.765625)"/>
<use href="#DejaVuSans-30" transform="translate(63.623047 0.765625)"/>
<use href="#DejaVuSans-32" transform="translate(128.203125 39.046875) scale(0.7)"/>
</g>
</g>
</g>
<g id="ytick_19">
<g id="line2d_41">
<g>
<use href="#me904bfcc6c" x="328.0320" y="292.8960" style="stroke: #000000; stroke-width: 0.8"/>
</g>
</g>
<g id="text_42" class="t" transform="translate(0.0288 1.0944) translate(0.0000 0.0000) scale(1.0000 1.0000) translate(-0.0000 -0.0000)">
<!-- $\mathdefault{10^{6}}$ -->
<g transform="translate(299.8256 297.412019) scale(0.12 -0.12)">
<defs>
<path id="DejaVuSans-36" d="M 2113 2584
Q 1688 2584 1439 2293
Q 1191 2003 1191 1497
Q 1191 994 1439 701
Q 1688 409 2113 409
Q 2538 409 2786 701
Q 3034 994 3034 1497
Q 3034 2003 2786 2293
Q 2538 2584 2113 2584
z
M 3366 4563
L 3366 3988
Q 3128 4100 2886 4159
Q 2644 4219 2406 4219
Q 1781 4219 1451 3797
Q 1122 3375 1075 2522
Q 1259 2794 1537 2939
Q 1816 3084 2150 3084
Q 2853 3084 3261 2657
Q 3669 2231 3669 1497
Q 3669 778 3244 343
Q 2819 -91 2113 -91
Q 1303 -91 875 529
Q 447 1150 447 2328
Q 447 3434 972 4092
Q 1497 4750 2381 4750
Q 2619 4750 2861 4703
Q 3103 4656 3366 4563
z
" transform="scale(0.015625)"/>
</defs>
<use href="#DejaVuSans-31" transform="translate(0 0.765625)"/>
<use href="#DejaVuSans-30" transform="translate(63.623047 0.765625)"/>
<use href="#DejaVuSans-36" transform="translate(128.203125 39.046875) scale(0.7)"/>
</g>
</g>
</g>
<g id="ytick_20">
<g id="line2d_42">
<g>
<use href="#me904bfcc6c" x="328.0320" y="267.5520" style="stroke: #000000; stroke-width: 0.8"/>
</g>
</g>
<g id="text_43" class="t" transform="translate(0.0288 1.0944) translate(0.0000 0.0000) scale(1.0000 1.0000) translate(-0.0000 -0.0000)">
<!-- $\mathdefault{10^{10}}$ -->
<g transform="translate(294.4256 271.954513) scale(0.12 -0.12)">
<use href="#DejaVuSans-31" transform="translate(0 0.765625)"/>
<use href="#DejaVuSans-30" transform="translate(63.623047 0.765625)"/>
<use href="#DejaVuSans-31" transform="translate(128.203125 39.046875) scale(0.7)"/>
<use href="#DejaVuSans-30" transform="translate(172.739258 39.046875) scale(0.7)"/>
</g>
</g>
</g>
<g id="ytick_21">
<g id="line2d_43">
<g>
<use href="#me904bfcc6c" x="328.0320" y="242.2080" style="stroke: #000000; stroke-width: 0.8"/>
</g>
</g>
<g id="text_44" class="t" transform="translate(0.0288 1.0944) translate(0.0000 0.0000) scale(1.0000 1.0000) translate(-0.0000 -0.0000)">
<!-- $\mathdefault{10^{14}}$ -->
<g transform="translate(294.4256 246.497007) scale(0.12 -0.12)">
<use href="#DejaVuSans-31" transform="translate(0 0.684375)"/>
<use href="#DejaVuSans-30" transform="translate(63.623047 0.684375)"/>
<use href="#DejaVuSans-31" transform="translate(128.203125 38.965625) scale(0.7)"/>
<use href="#DejaVuSans-34" transform="translate(172.739258 38.965625) scale(0.7)"/>
</g>
</g>
</g>
<g id="ytick_22">
<g id="line2d_44">
<g>
<use href="#me904bfcc6c" x="328.0320" y="216.8640" style="stroke: #000000; stroke-width: 0.8"/>
</g>
</g>
<g id="text_45" class="t" transform="translate(0.0288 1.0944) translate(0.0000 0.0000) scale(1.0000 1.0000) translate(-0.0000 -0.0000)">
<!-- $\mathdefault{10^{18}}$ -->
<g transform="translate(294.4256 221.039501) scale(0.12 -0.12)">
<defs>
<path id="DejaVuSans-38" d="M 2034 2216
Q 1584 2216 1326 1975
Q 1069 1734 1069 1313
Q 1069 891 1326 650
Q 1584 409 2034 409
Q 2484 409 2743 651
Q 3003 894 3003 1313
Q 3003 1734 2745 1975
Q 2488 2216 2034 2216
z
M 1403 2484
Q 997 2584 770 2862
Q 544 3141 544 3541
Q 544 4100 942 4425
Q 1341 4750 2034 4750
Q 2731 4750 3128 4425
Q 3525 4100 3525 3541
Q 3525 3141 3298 2862
Q 3072 2584 2669 2484
Q 3125 2378 3379 2068
Q 3634 1759 3634 1313
Q 3634 634 3220 271
Q 2806 -91 2034 -91
Q 1263 -91 848 271
Q 434 634 434 1313
Q 434 1759 690 2068
Q 947 2378 1403 2484
z
M 1172 3481
Q 1172 3119 1398 2916
Q 1625 2713 2034 2713
Q 2441 2713 2670 2916
Q 2900 3119 2900 3481
Q 2900 3844 2670 4047
Q 2441 4250 2034 4250
Q 1625 4250 1398 4047
Q 1172 3844 1172 3481
z
" transform="scale(0.015625)"/>
</defs>
<use href="#DejaVuSans-31" transform="translate(0 0.765625)"/>
<use href="#DejaVuSans-30" transform="translate(63.623047 0.765625)"/>
<use href="#DejaVuSans-31" transform="translate(128.203125 39.046875) scale(0.7)"/>
<use href="#DejaVuSans-38" transform="translate(172.739258 39.046875) scale(0.7)"/>
</g>
</g>
</g>
<g id="text_46" class="t" transform="translate(-1.3536 0.6048) translate(282.9387 290.4936) scale(1.0000 1.0400) translate(-282.9387 -290.4936)">
<!-- internal energy -->
<g transform="translate(286.249975 336.71625) rotate(-90) scale(0.12 -0.12)">
<defs>
<path id="DejaVuSans-61" d="M 2194 1759
Q 1497 1759 1228 1600
Q 959 1441 959 1056
Q 959 750 1161 570
Q 1363 391 1709 391
Q 2188 391 2477 730
Q 2766 1069 2766 1631
L 2766 1759
L 2194 1759
z
M 3341 1997
L 3341 0
L 2766 0
L 2766 531
Q 2569 213 2275 61
Q 1981 -91 1556 -91
Q 1019 -91 701 211
Q 384 513 384 1019
Q 384 1609 779 1909
Q 1175 2209 1959 2209
L 2766 2209
L 2766 2266
Q 2766 2663 2505 2880
Q 2244 3097 1772 3097
Q 1472 3097 1187 3025
Q 903 2953 641 2809
L 641 3341
Q 956 3463 1253 3523
Q 1550 3584 1831 3584
Q 2591 3584 2966 3190
Q 3341 2797 3341 1997
z
" transform="scale(0.015625)"/>
<path id="DejaVuSans-20" transform="scale(0.015625)"/>
<path id="DejaVuSans-67" d="M 2906 1791
Q 2906 2416 2648 2759
Q 2391 3103 1925 3103
Q 1463 3103 1205 2759
Q 947 2416 947 1791
Q 947 1169 1205 825
Q 1463 481 1925 481
Q 2391 481 2648 825
Q 2906 1169 2906 1791
z
M 3481 434
Q 3481 -459 3084 -895
Q 2688 -1331 1869 -1331
Q 1566 -1331 1297 -1286
Q 1028 -1241 775 -1147
L 775 -588
Q 1028 -725 1275 -790
Q 1522 -856 1778 -856
Q 2344 -856 2625 -561
Q 2906 -266 2906 331
L 2906 616
Q 2728 306 2450 153
Q 2172 0 1784 0
Q 1141 0 747 490
Q 353 981 353 1791
Q 353 2603 747 3093
Q 1141 3584 1784 3584
Q 2172 3584 2450 3431
Q 2728 3278 2906 2969
L 2906 3500
L 3481 3500
L 3481 434
z
" transform="scale(0.015625)"/>
</defs>
<use href="#DejaVuSans-69"/>
<use href="#DejaVuSans-6e" transform="translate(27.783203 0)"/>
<use href="#DejaVuSans-74" transform="translate(91.162109 0)"/>
<use href="#DejaVuSans-65" transform="translate(130.371094 0)"/>
<use href="#DejaVuSans-72" transform="translate(191.894531 0)"/>
<use href="#DejaVuSans-6e" transform="translate(231.257812 0)"/>
<use href="#DejaVuSans-61" transform="translate(294.636719 0)"/>
<use href="#DejaVuSans-6c" transform="translate(355.916016 0)"/>
<use href="#DejaVuSans-20" transform="translate(383.699219 0)"/>
<use href="#DejaVuSans-65" transform="translate(415.486328 0)"/>
<use href="#DejaVuSans-6e" transform="translate(477.009766 0)"/>
<use href="#DejaVuSans-65" transform="translate(540.388672 0)"/>
<use href="#DejaVuSans-72" transform="translate(601.912109 0)"/>
<use href="#DejaVuSans-67" transform="translate(641.275391 0)"/>
<use href="#DejaVuSans-79" transform="translate(704.751953 0)"/>
</g>
</g>
</g>
<g id="line2d_45">
<g clip-path="url(#p73256d449b)">
<use href="#m07281500a2" x="329.7600" y="304.4160" style="fill: #ff0000; stroke: #ff0000; stroke-width: 1.5"/>
<use href="#m07281500a2" x="332.0640" y="304.4160" style="fill: #ff0000; stroke: #ff0000; stroke-width: 1.5"/>
<use href="#m07281500a2" x="334.9440" y="304.4160" style="fill: #ff0000; stroke: #ff0000; stroke-width: 1.5"/>
<use href="#m07281500a2" x="337.2480" y="304.4160" style="fill: #ff0000; stroke: #ff0000; stroke-width: 1.5"/>
<use href="#m07281500a2" x="340.1280" y="304.4160" style="fill: #ff0000; stroke: #ff0000; stroke-width: 1.5"/>
<use href="#m07281500a2" x="342.4320" y="304.4160" style="fill: #ff0000; stroke: #ff0000; stroke-width: 1.5"/>
<use href="#m07281500a2" x="345.3120" y="304.4160" style="fill: #ff0000; stroke: #ff0000; stroke-width: 1.5"/>
<use href="#m07281500a2" x="348.1920" y="304.4160" style="fill: #ff0000; stroke: #ff0000; stroke-width: 1.5"/>
<use href="#m07281500a2" x="350.4960" y="304.9920" style="fill: #ff0000; stroke: #ff0000; stroke-width: 1.5"/>
<use href="#m07281500a2" x="353.3760" y="304.9920" style="fill: #ff0000; stroke: #ff0000; stroke-width: 1.5"/>
<use href="#m07281500a2" x="355.6800" y="305.5680" style="fill: #ff0000; stroke: #ff0000; stroke-width: 1.5"/>
<use href="#m07281500a2" x="358.5600" y="305.5680" style="fill: #ff0000; stroke: #ff0000; stroke-width: 1.5"/>
<use href="#m07281500a2" x="360.8640" y="306.1440" style="fill: #ff0000; stroke: #ff0000; stroke-width: 1.5"/>
<use href="#m07281500a2" x="363.7440" y="306.1440" style="fill: #ff0000; stroke: #ff0000; stroke-width: 1.5"/>
<use href="#m07281500a2" x="366.0480" y="306.1440" style="fill: #ff0000; stroke: #ff0000; stroke-width: 1.5"/>
<use href="#m07281500a2" x="368.9280" y="306.7200" style="fill: #ff0000; stroke: #ff0000; stroke-width: 1.5"/>
<use href="#m07281500a2" x="371.8080" y="306.7200" style="fill: #ff0000; stroke: #ff0000; stroke-width: 1.5"/>
<use href="#m07281500a2" x="374.1120" y="307.2960" style="fill: #ff0000; stroke: #ff0000; stroke-width: 1.5"/>
<use href="#m07281500a2" x="376.9920" y="307.2960" style="fill: #ff0000; stroke: #ff0000; stroke-width: 1.5"/>
<use href="#m07281500a2" x="379.2960" y="307.8720" style="fill: #ff0000; stroke: #ff0000; stroke-width: 1.5"/>
<use href="#m07281500a2" x="382.1760" y="308.4480" style="fill: #ff0000; stroke: #ff0000; stroke-width: 1.5"/>
<use href="#m07281500a2" x="384.4800" y="309.0240" style="fill: #ff0000; stroke: #ff0000; stroke-width: 1.5"/>
<use href="#m07281500a2" x="387.3600" y="309.6000" style="fill: #ff0000; stroke: #ff0000; stroke-width: 1.5"/>
<use href="#m07281500a2" x="389.6640" y="310.7520" style="fill: #ff0000; stroke: #ff0000; stroke-width: 1.5"/>
<use href="#m07281500a2" x="392.5440" y="311.9040" style="fill: #ff0000; stroke: #ff0000; stroke-width: 1.5"/>
<use href="#m07281500a2" x="395.4240" y="313.0560" style="fill: #ff0000; stroke: #ff0000; stroke-width: 1.5"/>
<use href="#m07281500a2" x="397.7280" y="314.2080" style="fill: #ff0000; stroke: #ff0000; stroke-width: 1.5"/>
<use href="#m07281500a2" x="400.6080" y="314.7840" style="fill: #ff0000; stroke: #ff0000; stroke-width: 1.5"/>
<use href="#m07281500a2" x="402.9120" y="315.3600" style="fill: #ff0000; stroke: #ff0000; stroke-width: 1.5"/>
<use href="#m07281500a2" x="405.7920" y="315.9360" style="fill: #ff0000; stroke: #ff0000; stroke-width: 1.5"/>
<use href="#m07281500a2" x="408.0960" y="317.0880" style="fill: #ff0000; stroke: #ff0000; stroke-width: 1.5"/>
<use href="#m07281500a2" x="410.9760" y="317.6640" style="fill: #ff0000; stroke: #ff0000; stroke-width: 1.5"/>
<use href="#m07281500a2" x="413.2800" y="318.2400" style="fill: #ff0000; stroke: #ff0000; stroke-width: 1.5"/>
<use href="#m07281500a2" x="416.1600" y="318.8160" style="fill: #ff0000; stroke: #ff0000; stroke-width: 1.5"/>
<use href="#m07281500a2" x="419.0400" y="319.3920" style="fill: #ff0000; stroke: #ff0000; stroke-width: 1.5"/>
<use href="#m07281500a2" x="421.3440" y="319.9680" style="fill: #ff0000; stroke: #ff0000; stroke-width: 1.5"/>
<use href="#m07281500a2" x="424.2240" y="320.5440" style="fill: #ff0000; stroke: #ff0000; stroke-width: 1.5"/>
<use href="#m07281500a2" x="426.5280" y="321.1200" style="fill: #ff0000; stroke: #ff0000; stroke-width: 1.5"/>
<use href="#m07281500a2" x="429.4080" y="321.6960" style="fill: #ff0000; stroke: #ff0000; stroke-width: 1.5"/>
<use href="#m07281500a2" x="431.7120" y="322.2720" style="fill: #ff0000; stroke: #ff0000; stroke-width: 1.5"/>
<use href="#m07281500a2" x="434.5920" y="322.8480" style="fill: #ff0000; stroke: #ff0000; stroke-width: 1.5"/>
<use href="#m07281500a2" x="436.8960" y="323.4240" style="fill: #ff0000; stroke: #ff0000; stroke-width: 1.5"/>
<use href="#m07281500a2" x="439.7760" y="324.5760" style="fill: #ff0000; stroke: #ff0000; stroke-width: 1.5"/>
<use href="#m07281500a2" x="442.6560" y="328.0320" style="fill: #ff0000; stroke: #ff0000; stroke-width: 1.5"/>
<use href="#m07281500a2" x="444.9600" y="335.5200" style="fill: #ff0000; stroke: #ff0000; stroke-width: 1.5"/>
<use href="#m07281500a2" x="447.8400" y="353.3760" style="fill: #ff0000; stroke: #ff0000; stroke-width: 1.5"/>
<use href="#m07281500a2" x="450.1440" y="360.8640" style="fill: #ff0000; stroke: #ff0000; stroke-width: 1.5"/>
<use href="#m07281500a2" x="453.0240" y="360.8640" style="fill: #ff0000; stroke: #ff0000; stroke-width: 1.5"/>
<use href="#m07281500a2" x="455.3280" y="360.8640" style="fill: #ff0000; stroke: #ff0000; stroke-width: 1.5"/>
<use href="#m07281500a2" x="458.2080" y="360.8640" style="fill: #ff0000; stroke: #ff0000; stroke-width: 1.5"/>
<use href="#m07281500a2" x="460.5120" y="360.8640" style="fill: #ff0000; stroke: #ff0000; stroke-width: 1.5"/>
<use href="#m07281500a2" x="463.3920" y="360.8640" style="fill: #ff0000; stroke: #ff0000; stroke-width: 1.5"/>
<use href="#m07281500a2" x="466.2720" y="360.8640" style="fill: #ff0000; stroke: #ff0000; stroke-width: 1.5"/>
<use href="#m07281500a2" x="468.5760" y="360.8640" style="fill: #ff0000; stroke: #ff0000; stroke-width: 1.5"/>
<use href="#m07281500a2" x="471.4560" y="360.8640" style="fill: #ff0000; stroke: #ff0000; stroke-width: 1.5"/>
<use href="#m07281500a2" x="473.7600" y="360.8640" style="fill: #ff0000; stroke: #ff0000; stroke-width: 1.5"/>
<use href="#m07281500a2" x="476.6400" y="360.8640" style="fill: #ff0000; stroke: #ff0000; stroke-width: 1.5"/>
<use href="#m07281500a2" x="478.9440" y="360.8640" style="fill: #ff0000; stroke: #ff0000; stroke-width: 1.5"/>
<use href="#m07281500a2" x="481.8240" y="360.8640" style="fill: #ff0000; stroke: #ff0000; stroke-width: 1.5"/>
<use href="#m07281500a2" x="484.7040" y="360.8640" style="fill: #ff0000; stroke: #ff0000; stroke-width: 1.5"/>
<use href="#m07281500a2" x="487.0080" y="360.8640" style="fill: #ff0000; stroke: #ff0000; stroke-width: 1.5"/>
<use href="#m07281500a2" x="489.8880" y="360.8640" style="fill: #ff0000; stroke: #ff0000; stroke-width: 1.5"/>
<use href="#m07281500a2" x="492.1920" y="360.8640" style="fill: #ff0000; stroke: #ff0000; stroke-width: 1.5"/>
<use href="#m07281500a2" x="495.0720" y="360.8640" style="fill: #ff0000; stroke: #ff0000; stroke-width: 1.5"/>
<use href="#m07281500a2" x="497.3760" y="360.8640" style="fill: #ff0000; stroke: #ff0000; stroke-width: 1.5"/>
<use href="#m07281500a2" x="500.2560" y="360.8640" style="fill: #ff0000; stroke: #ff0000; stroke-width: 1.5"/>
<use href="#m07281500a2" x="502.5600" y="360.8640" style="fill: #ff0000; stroke: #ff0000; stroke-width: 1.5"/>
<use href="#m07281500a2" x="505.4400" y="360.8640" style="fill: #ff0000; stroke: #ff0000; stroke-width: 1.5"/>
<use href="#m07281500a2" x="508.3200" y="360.8640" style="fill: #ff0000; stroke: #ff0000; stroke-width: 1.5"/>
<use href="#m07281500a2" x="510.6240" y="360.8640" style="fill: #ff0000; stroke: #ff0000; stroke-width: 1.5"/>
<use href="#m07281500a2" x="513.5040" y="360.8640" style="fill: #ff0000; stroke: #ff0000; stroke-width: 1.5"/>
<use href="#m07281500a2" x="515.8080" y="360.8640" style="fill: #ff0000; stroke: #ff0000; stroke-width: 1.5"/>
<use href="#m07281500a2" x="518.6880" y="360.8640" style="fill: #ff0000; stroke: #ff0000; stroke-width: 1.5"/>
<use href="#m07281500a2" x="520.9920" y="360.8640" style="fill: #ff0000; stroke: #ff0000; stroke-width: 1.5"/>
<use href="#m07281500a2" x="523.8720" y="360.8640" style="fill: #ff0000; stroke: #ff0000; stroke-width: 1.5"/>
<use href="#m07281500a2" x="526.1760" y="360.8640" style="fill: #ff0000; stroke: #ff0000; stroke-width: 1.5"/>
<use href="#m07281500a2" x="529.0560" y="360.8640" style="fill: #ff0000; stroke: #ff0000; stroke-width: 1.5"/>
<use href="#m07281500a2" x="531.9360" y="360.8640" style="fill: #ff0000; stroke: #ff0000; stroke-width: 1.5"/>
</g>
</g>
<g id="patch_18">
<path d="M 328.0320 367.7760 L 328.0320 214.5600" style="fill: none; stroke: #000000; stroke-width: 0.8; stroke-linejoin: miter; stroke-linecap: square"/>
</g>
<g id="patch_19">
<path d="M 529.6320 367.7760 L 529.6320 214.5600" style="fill: none; stroke: #000000; stroke-width: 0.8; stroke-linejoin: miter; stroke-linecap: square"/>
</g>
<g id="patch_20">
<path d="M 328.0320 367.7760 L 529.6320 367.7760" style="fill: none; stroke: #000000; stroke-width: 0.8; stroke-linejoin: miter; stroke-linecap: square"/>
</g>
<g id="patch_21">
<path d="M 328.0320 214.5600 L 529.6320 214.5600" style="fill: none; stroke: #000000; stroke-width: 0.8; stroke-linejoin: miter; stroke-linecap: square"/>
</g>
<g id="line2d_46">
<path d="M 328.7331 220.73876
L 330.3081 243.513105
L 331.8831 254.102572
L 333.4581 261.077676
L 335.0331 266.28745
L 336.6081 270.447374
L 338.1831 273.910422
L 339.7581 276.876917
L 341.3331 279.471562
L 342.9081 281.777281
L 344.4831 283.852021
L 347.6331 287.466385
L 350.7831 290.543146
L 353.9331 293.221719
L 357.0831 295.593458
L 360.2331 297.721491
L 364.9581 300.552723
L 369.6831 303.043349
L 374.4081 305.266618
L 379.1331 307.274461
L 385.4331 309.681106
L 391.7331 311.837977
L 399.6081 314.254905
L 407.4831 316.425766
L 416.9331 318.782746
L 429.5331 321.656694
L 437.4081 323.452623
L 437.430906 415.72
L 437.430906 415.72
" clip-path="url(#p73256d449b)" style="fill: none; stroke: #1f77b4; stroke-width: 1.5; stroke-linecap: square"/>
</g>
</g>
</g>
<defs>
<clipPath id="pbebabd6187">
<rect x="51.8400" y="13.2480" width="201.6000" height="153.7920"/>
</clipPath>
<clipPath id="pd83d0a4c0b">
<rect x="327.7440" y="13.2480" width="201.6000" height="153.7920"/>
</clipPath>
<clipPath id="p1380a5c26d">
<rect x="51.8400" y="214.2720" width="201.6000" height="153.2160"/>
</clipPath>
<clipPath id="p73256d449b">
<rect x="327.7440" y="214.2720" width="201.6000" height="153.2160"/>
</clipPath>
</defs>
</svg>

</body></html>
